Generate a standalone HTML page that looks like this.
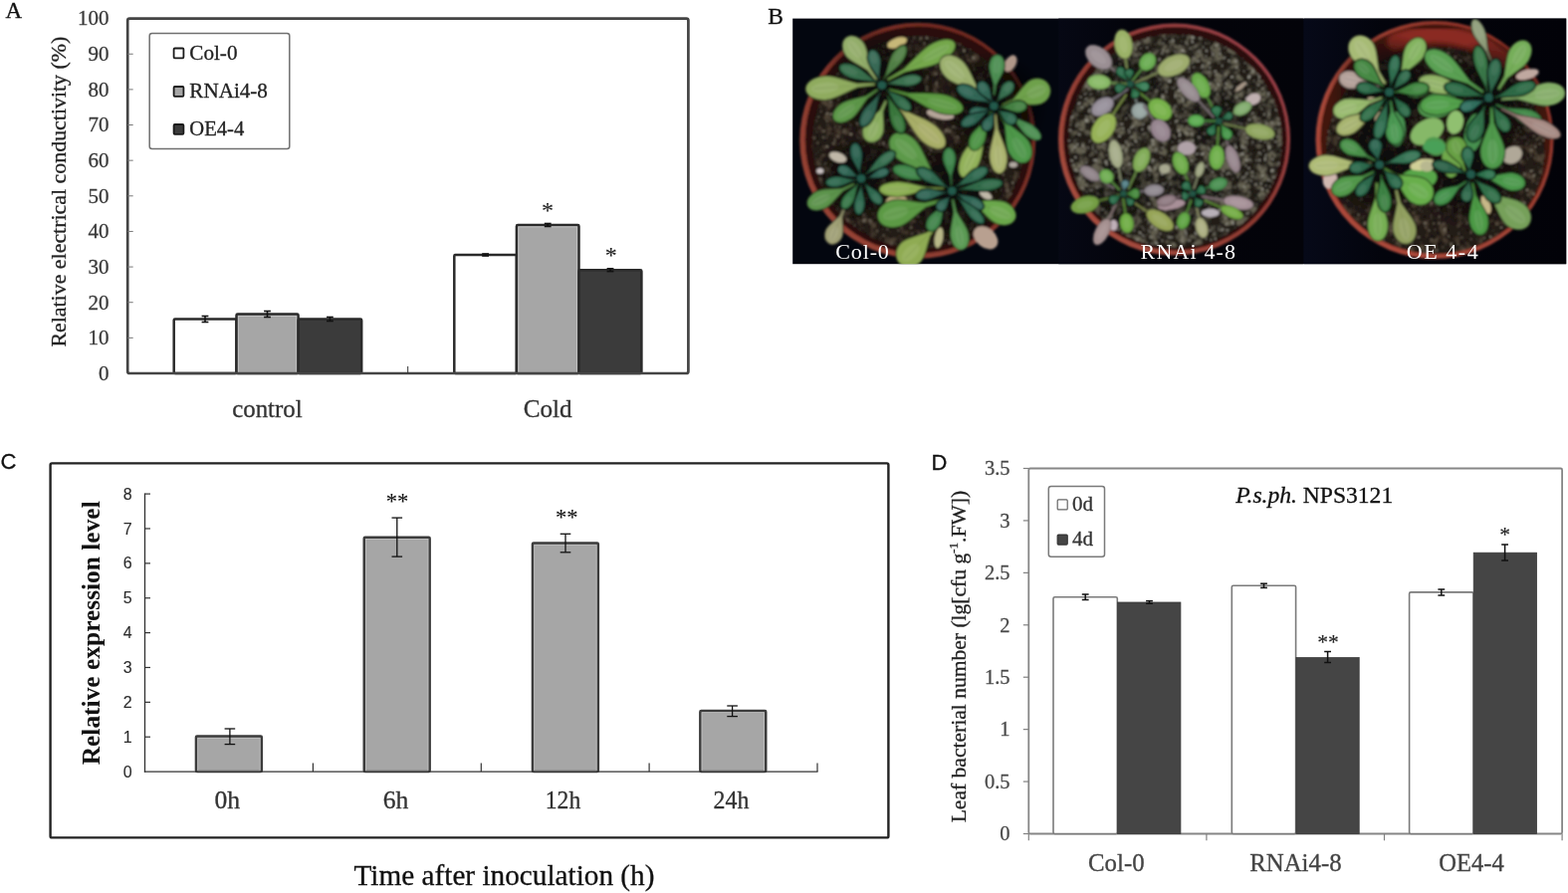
<!DOCTYPE html>
<html lang="en">
<head>
<meta charset="utf-8">
<title>Figure: relative electrical conductivity, plant phenotype, expression level and leaf bacterial number</title>
<style>
html,body{margin:0;padding:0;background:#fff;}
body{width:1575px;height:897px;overflow:hidden;font-family:"Liberation Serif","DejaVu Serif",serif;}
svg{display:block;}
text{white-space:pre;}
</style>
</head>
<body>
<svg width="1575" height="897" viewBox="0 0 1575 897">
<rect x="0" y="0" width="1575" height="897" fill="#ffffff"/>
<g id="panelA">
<text x="5.6" y="18.3" font-size="23" fill="#111" stroke="#111" stroke-width="0.3" text-anchor="start" font-family="'Liberation Serif', 'DejaVu Serif', serif" >A</text>
<rect x="174.7" y="320.4" width="62.80000000000001" height="54.60000000000002" fill="#ffffff" stroke="#2a2a2a" stroke-width="2.5" rx="1.2"/>
<rect x="237.5" y="315.6" width="62.10000000000002" height="59.39999999999998" fill="#a6a6a6" stroke="#2a2a2a" stroke-width="2.5" rx="1.2"/>
<rect x="239.4" y="317.5" width="58.300000000000026" height="56.39999999999998" fill="none" stroke="#c4c4c4" stroke-width="0.9" />
<rect x="299.6" y="320.6" width="63.599999999999966" height="54.39999999999998" fill="#3b3b3b" stroke="#2a2a2a" stroke-width="2.5" rx="1.2"/>
<rect x="456.3" y="255.9" width="62.599999999999966" height="119.1" fill="#ffffff" stroke="#2a2a2a" stroke-width="2.5" rx="1.2"/>
<rect x="518.9" y="226.0" width="62.60000000000002" height="149.0" fill="#a6a6a6" stroke="#2a2a2a" stroke-width="2.5" rx="1.2"/>
<rect x="520.8" y="227.9" width="58.800000000000026" height="146.0" fill="none" stroke="#c4c4c4" stroke-width="0.9" />
<rect x="581.5" y="271.2" width="62.89999999999998" height="103.80000000000001" fill="#3b3b3b" stroke="#2a2a2a" stroke-width="2.5" rx="1.2"/>
<line x1="206" y1="317.5" x2="206" y2="323.5" stroke="#111" stroke-width="1.6" />
<line x1="202.6" y1="317.5" x2="209.4" y2="317.5" stroke="#111" stroke-width="1.6" />
<line x1="202.6" y1="323.5" x2="209.4" y2="323.5" stroke="#111" stroke-width="1.6" />
<line x1="268.5" y1="312.5" x2="268.5" y2="318.5" stroke="#111" stroke-width="1.6" />
<line x1="265.1" y1="312.5" x2="271.9" y2="312.5" stroke="#111" stroke-width="1.6" />
<line x1="265.1" y1="318.5" x2="271.9" y2="318.5" stroke="#111" stroke-width="1.6" />
<line x1="331.4" y1="318.5" x2="331.4" y2="322.5" stroke="#111" stroke-width="1.6" />
<line x1="328.0" y1="318.5" x2="334.79999999999995" y2="318.5" stroke="#111" stroke-width="1.6" />
<line x1="328.0" y1="322.5" x2="334.79999999999995" y2="322.5" stroke="#111" stroke-width="1.6" />
<line x1="487.6" y1="255" x2="487.6" y2="257" stroke="#111" stroke-width="1.6" />
<line x1="484.20000000000005" y1="255" x2="491.0" y2="255" stroke="#111" stroke-width="1.6" />
<line x1="484.20000000000005" y1="257" x2="491.0" y2="257" stroke="#111" stroke-width="1.6" />
<line x1="550.2" y1="224.5" x2="550.2" y2="227.5" stroke="#111" stroke-width="1.6" />
<line x1="546.8000000000001" y1="224.5" x2="553.6" y2="224.5" stroke="#111" stroke-width="1.6" />
<line x1="546.8000000000001" y1="227.5" x2="553.6" y2="227.5" stroke="#111" stroke-width="1.6" />
<line x1="613" y1="269.8" x2="613" y2="272.6" stroke="#111" stroke-width="1.6" />
<line x1="609.6" y1="269.8" x2="616.4" y2="269.8" stroke="#111" stroke-width="1.6" />
<line x1="609.6" y1="272.6" x2="616.4" y2="272.6" stroke="#111" stroke-width="1.6" />
<rect x="128.2" y="18.6" width="563.2" height="356.4" fill="none" stroke="#444444" stroke-width="2.7" rx="2"/>
<line x1="128.2" y1="339.36" x2="133.7" y2="339.36" stroke="#777" stroke-width="1" />
<line x1="128.2" y1="303.72" x2="133.7" y2="303.72" stroke="#777" stroke-width="1" />
<line x1="128.2" y1="268.08000000000004" x2="133.7" y2="268.08000000000004" stroke="#777" stroke-width="1" />
<line x1="128.2" y1="232.44" x2="133.7" y2="232.44" stroke="#777" stroke-width="1" />
<line x1="128.2" y1="196.8" x2="133.7" y2="196.8" stroke="#777" stroke-width="1" />
<line x1="128.2" y1="161.16000000000003" x2="133.7" y2="161.16000000000003" stroke="#777" stroke-width="1" />
<line x1="128.2" y1="125.52000000000004" x2="133.7" y2="125.52000000000004" stroke="#777" stroke-width="1" />
<line x1="128.2" y1="89.88" x2="133.7" y2="89.88" stroke="#777" stroke-width="1" />
<line x1="128.2" y1="54.24000000000001" x2="133.7" y2="54.24000000000001" stroke="#777" stroke-width="1" />
<line x1="409.7" y1="368" x2="409.7" y2="375" stroke="#333" stroke-width="1" />
<text x="109.6" y="381.8" font-size="21" fill="#3a3a3a" stroke="#3a3a3a" stroke-width="0.3" text-anchor="end" font-family="'Liberation Serif', 'DejaVu Serif', serif" >0</text>
<text x="109.6" y="346.16" font-size="21" fill="#3a3a3a" stroke="#3a3a3a" stroke-width="0.3" text-anchor="end" font-family="'Liberation Serif', 'DejaVu Serif', serif" >10</text>
<text x="109.6" y="310.52000000000004" font-size="21" fill="#3a3a3a" stroke="#3a3a3a" stroke-width="0.3" text-anchor="end" font-family="'Liberation Serif', 'DejaVu Serif', serif" >20</text>
<text x="109.6" y="274.88000000000005" font-size="21" fill="#3a3a3a" stroke="#3a3a3a" stroke-width="0.3" text-anchor="end" font-family="'Liberation Serif', 'DejaVu Serif', serif" >30</text>
<text x="109.6" y="239.24" font-size="21" fill="#3a3a3a" stroke="#3a3a3a" stroke-width="0.3" text-anchor="end" font-family="'Liberation Serif', 'DejaVu Serif', serif" >40</text>
<text x="109.6" y="203.60000000000002" font-size="21" fill="#3a3a3a" stroke="#3a3a3a" stroke-width="0.3" text-anchor="end" font-family="'Liberation Serif', 'DejaVu Serif', serif" >50</text>
<text x="109.6" y="167.96000000000004" font-size="21" fill="#3a3a3a" stroke="#3a3a3a" stroke-width="0.3" text-anchor="end" font-family="'Liberation Serif', 'DejaVu Serif', serif" >60</text>
<text x="109.6" y="132.32000000000005" font-size="21" fill="#3a3a3a" stroke="#3a3a3a" stroke-width="0.3" text-anchor="end" font-family="'Liberation Serif', 'DejaVu Serif', serif" >70</text>
<text x="109.6" y="96.67999999999999" font-size="21" fill="#3a3a3a" stroke="#3a3a3a" stroke-width="0.3" text-anchor="end" font-family="'Liberation Serif', 'DejaVu Serif', serif" >80</text>
<text x="109.6" y="61.040000000000006" font-size="21" fill="#3a3a3a" stroke="#3a3a3a" stroke-width="0.3" text-anchor="end" font-family="'Liberation Serif', 'DejaVu Serif', serif" >90</text>
<text x="109.6" y="25.400000000000023" font-size="21" fill="#3a3a3a" stroke="#3a3a3a" stroke-width="0.3" text-anchor="end" font-family="'Liberation Serif', 'DejaVu Serif', serif" >100</text>
<text transform="translate(65.8,348.6) rotate(-90)" font-size="22" fill="#222" stroke="#222" stroke-width="0.3" font-family="'Liberation Serif', 'DejaVu Serif', serif" textLength="312" lengthAdjust="spacingAndGlyphs">Relative electrical conductivity (%)</text>
<rect x="150.2" y="33.6" width="140.6" height="116" fill="#fff" stroke="#707070" stroke-width="1.5" rx="2.5"/>
<rect x="174.6" y="48.5" width="9.8" height="9.8" fill="#ffffff" stroke="#1a1a1a" stroke-width="1.8" rx="1"/>
<text x="190.3" y="59.8" font-size="21" fill="#222" stroke="#222" stroke-width="0.3" text-anchor="start" font-family="'Liberation Serif', 'DejaVu Serif', serif" textLength="48.2" lengthAdjust="spacingAndGlyphs" >Col-0</text>
<rect x="174.6" y="87.0" width="9.8" height="9.8" fill="#a6a6a6" stroke="#1a1a1a" stroke-width="1.8" rx="1"/>
<text x="190.3" y="98.3" font-size="21" fill="#222" stroke="#222" stroke-width="0.3" text-anchor="start" font-family="'Liberation Serif', 'DejaVu Serif', serif" textLength="78.6" lengthAdjust="spacingAndGlyphs" >RNAi4-8</text>
<rect x="174.6" y="125.0" width="9.8" height="9.8" fill="#3b3b3b" stroke="#1a1a1a" stroke-width="1.8" rx="1"/>
<text x="190.3" y="136.2" font-size="21" fill="#222" stroke="#222" stroke-width="0.3" text-anchor="start" font-family="'Liberation Serif', 'DejaVu Serif', serif" textLength="55" lengthAdjust="spacingAndGlyphs" >OE4-4</text>
<text x="268.4" y="419.4" font-size="25" fill="#333" stroke="#333" stroke-width="0.3" text-anchor="middle" font-family="'Liberation Serif', 'DejaVu Serif', serif" textLength="70.5" lengthAdjust="spacingAndGlyphs" >control</text>
<text x="550.2" y="419.4" font-size="25" fill="#333" stroke="#333" stroke-width="0.3" text-anchor="middle" font-family="'Liberation Serif', 'DejaVu Serif', serif" textLength="49" lengthAdjust="spacingAndGlyphs" >Cold</text>
<text x="550.0" y="218.8" font-size="24" fill="#222" stroke="#222" stroke-width="0.1" text-anchor="middle" font-family="'Liberation Serif', 'DejaVu Serif', serif" >*</text>
<text x="613.7" y="264.4" font-size="24" fill="#222" stroke="#222" stroke-width="0.1" text-anchor="middle" font-family="'Liberation Serif', 'DejaVu Serif', serif" >*</text>
</g>
<defs>
<filter id="soil1" x="0" y="0" width="100%" height="100%" color-interpolation-filters="sRGB">
<feTurbulence type="fractalNoise" baseFrequency="0.11" numOctaves="2" seed="3" result="n1"/>
<feColorMatrix in="n1" type="matrix" values="0 0 0 0 0  0 0 0 0 0  0 0 0 0 0  5.0 0 0 0 -2.6" result="a1"/>
<feFlood flood-color="#4e4336" result="f1"/>
<feComposite in="f1" in2="a1" operator="in" result="lumps"/>
<feTurbulence type="fractalNoise" baseFrequency="0.3" numOctaves="2" seed="8" result="n2"/>
<feColorMatrix in="n2" type="matrix" values="0 0 0 0 0  0 0 0 0 0  0 0 0 0 0  0 8 0 0 -5.3" result="a2"/>
<feFlood flood-color="#8a8272" result="f2"/>
<feComposite in="f2" in2="a2" operator="in" result="hi"/>
<feColorMatrix in="n2" type="matrix" values="0 0 0 0 0  0 0 0 0 0  0 0 0 0 0  0 0 -6 0 2.5" result="a3"/>
<feFlood flood-color="#14100d" result="f3"/>
<feComposite in="f3" in2="a3" operator="in" result="dk"/>
<feMerge result="m"><feMergeNode in="SourceGraphic"/><feMergeNode in="lumps"/><feMergeNode in="dk"/><feMergeNode in="hi"/></feMerge>
<feComposite in="m" in2="SourceGraphic" operator="in"/>
</filter>
<filter id="soil2" x="0" y="0" width="100%" height="100%" color-interpolation-filters="sRGB">
<feTurbulence type="fractalNoise" baseFrequency="0.11" numOctaves="2" seed="11" result="n1"/>
<feColorMatrix in="n1" type="matrix" values="0 0 0 0 0  0 0 0 0 0  0 0 0 0 0  5.0 0 0 0 -2.25" result="a1"/>
<feFlood flood-color="#625e4f" result="f1"/>
<feComposite in="f1" in2="a1" operator="in" result="lumps"/>
<feTurbulence type="fractalNoise" baseFrequency="0.3" numOctaves="2" seed="16" result="n2"/>
<feColorMatrix in="n2" type="matrix" values="0 0 0 0 0  0 0 0 0 0  0 0 0 0 0  0 8 0 0 -5.0" result="a2"/>
<feFlood flood-color="#96948a" result="f2"/>
<feComposite in="f2" in2="a2" operator="in" result="hi"/>
<feColorMatrix in="n2" type="matrix" values="0 0 0 0 0  0 0 0 0 0  0 0 0 0 0  0 0 -6 0 2.5" result="a3"/>
<feFlood flood-color="#14100d" result="f3"/>
<feComposite in="f3" in2="a3" operator="in" result="dk"/>
<feMerge result="m"><feMergeNode in="SourceGraphic"/><feMergeNode in="lumps"/><feMergeNode in="dk"/><feMergeNode in="hi"/></feMerge>
<feComposite in="m" in2="SourceGraphic" operator="in"/>
</filter>
<filter id="soil3" x="0" y="0" width="100%" height="100%" color-interpolation-filters="sRGB">
<feTurbulence type="fractalNoise" baseFrequency="0.11" numOctaves="2" seed="23" result="n1"/>
<feColorMatrix in="n1" type="matrix" values="0 0 0 0 0  0 0 0 0 0  0 0 0 0 0  5.0 0 0 0 -2.6" result="a1"/>
<feFlood flood-color="#4e4336" result="f1"/>
<feComposite in="f1" in2="a1" operator="in" result="lumps"/>
<feTurbulence type="fractalNoise" baseFrequency="0.3" numOctaves="2" seed="28" result="n2"/>
<feColorMatrix in="n2" type="matrix" values="0 0 0 0 0  0 0 0 0 0  0 0 0 0 0  0 8 0 0 -5.3" result="a2"/>
<feFlood flood-color="#8a8272" result="f2"/>
<feComposite in="f2" in2="a2" operator="in" result="hi"/>
<feColorMatrix in="n2" type="matrix" values="0 0 0 0 0  0 0 0 0 0  0 0 0 0 0  0 0 -6 0 2.5" result="a3"/>
<feFlood flood-color="#14100d" result="f3"/>
<feComposite in="f3" in2="a3" operator="in" result="dk"/>
<feMerge result="m"><feMergeNode in="SourceGraphic"/><feMergeNode in="lumps"/><feMergeNode in="dk"/><feMergeNode in="hi"/></feMerge>
<feComposite in="m" in2="SourceGraphic" operator="in"/>
</filter>
<radialGradient id="shd"><stop offset="0" stop-color="#050403" stop-opacity="0.85"/><stop offset="0.6" stop-color="#050403" stop-opacity="0.55"/><stop offset="1" stop-color="#050403" stop-opacity="0"/></radialGradient>
<filter id="soft2" x="-20%" y="-20%" width="140%" height="140%"><feGaussianBlur stdDeviation="2"/></filter>
<filter id="soft" x="-2%" y="-2%" width="104%" height="104%"><feGaussianBlur stdDeviation="0.9"/></filter>
<clipPath id="photoclip"><rect x="796.2" y="18.6" width="777" height="246.6"/></clipPath>
<linearGradient id="rim1" x1="0" y1="1" x2="1" y2="0"><stop offset="0" stop-color="#a04a3a"/><stop offset="0.55" stop-color="#7e3228"/><stop offset="1" stop-color="#6a261e"/></linearGradient>
<linearGradient id="rim2" x1="0" y1="1" x2="1" y2="0"><stop offset="0" stop-color="#b05442"/><stop offset="0.5" stop-color="#8e3a32"/><stop offset="1" stop-color="#a04450"/></linearGradient>
<linearGradient id="rim3" x1="0" y1="1" x2="1" y2="0"><stop offset="0" stop-color="#b04a3c"/><stop offset="0.5" stop-color="#a04436"/><stop offset="1" stop-color="#8a2c22"/></linearGradient>
<linearGradient id="bg2" x1="0" y1="0" x2="1" y2="0"><stop offset="0" stop-color="#060814"/><stop offset="0.3" stop-color="#03040b"/><stop offset="1" stop-color="#030309"/></linearGradient>
<linearGradient id="bg3" x1="0" y1="0" x2="1" y2="0"><stop offset="0" stop-color="#060918"/><stop offset="0.3" stop-color="#03040c"/><stop offset="1" stop-color="#020208"/></linearGradient>
</defs>
<g id="panelB">
<text x="771.2" y="24" font-size="23.5" fill="#111" stroke="#111" stroke-width="0.3" text-anchor="start" font-family="'Liberation Serif', 'DejaVu Serif', serif" >B</text>
<rect x="796.2" y="18.6" width="777" height="246.6" fill="#03060f" stroke="none" stroke-width="0" />
<rect x="1063.3" y="18.6" width="245.6" height="246.6" fill="url(#bg2)" stroke="none" stroke-width="0" />
<rect x="1309.6" y="18.6" width="263.6" height="246.6" fill="url(#bg3)" stroke="none" stroke-width="0" />
<g clip-path="url(#photoclip)"><g filter="url(#soft)">
<circle cx="921.8" cy="141.2" r="118.5" fill="url(#rim1)"/>
<circle cx="922.6999999999999" cy="140.5" r="114.0" fill="#2a0d0a"/>
<ellipse cx="922.5999999999999" cy="142.7" rx="107.0" ry="107.0" fill="#231a15" filter="url(#soil1)"/>
<circle cx="885.9" cy="85.7" r="58.1" fill="url(#shd)"/>
<circle cx="998.4" cy="106.5" r="55.3" fill="url(#shd)"/>
<circle cx="865.1" cy="179.3" r="45.6" fill="url(#shd)"/>
<circle cx="956.3" cy="191.8" r="55.3" fill="url(#shd)"/>
<ellipse cx="901.1" cy="42.9" rx="10.4" ry="4.8" fill="#c8b878" transform="rotate(-20 901.1 42.9)"/>
<ellipse cx="944.5" cy="114.8" rx="13.8" ry="4.8" fill="#b5a59a" transform="rotate(10 944.5 114.8)"/>
<ellipse cx="841.6" cy="157.9" rx="9.0" ry="4.8" fill="#c0b8a8" transform="rotate(20 841.6 157.9)"/>
<ellipse cx="823.7" cy="171.7" rx="3.5" ry="2.8" fill="#c8c0c0" transform="rotate(0 823.7 171.7)"/>
<ellipse cx="1015.0" cy="63.6" rx="5.5" ry="9.0" fill="#b0988a" transform="rotate(30 1015.0 63.6)"/>
<ellipse cx="901.1" cy="205.6" rx="11.8" ry="10.4" fill="#c0b080" transform="rotate(0 901.1 205.6)"/>
<ellipse cx="990.1" cy="238.8" rx="13.8" ry="9.7" fill="#b8a090" transform="rotate(40 990.1 238.8)"/>
<ellipse cx="990.1" cy="195.9" rx="6.9" ry="3.5" fill="#c0b8a8" transform="rotate(30 990.1 195.9)"/>
<ellipse cx="943.1" cy="238.8" rx="4.1" ry="10.4" fill="#b8b888" transform="rotate(10 943.1 238.8)"/>
<ellipse cx="823.7" cy="200.1" rx="4.1" ry="7.6" fill="#b0a890" transform="rotate(10 823.7 200.1)"/>
<ellipse cx="1017.8" cy="165.5" rx="4.1" ry="2.8" fill="#b0a8a0" transform="rotate(0 1017.8 165.5)"/>
<path d="M881.4 79.4 L874.4 68.3 C871.3 55.6 871.7 49.3 867.6 43.2 C862.8 36.5 855.5 33.7 849.9 37.4 C844.7 41.4 844.8 49.3 849.6 56.0 C854.0 61.8 860.1 63.5 871.1 70.7 L879.3 81.0 Z" fill="#93ad6a" stroke="#2c331f" stroke-width="1.2" stroke-opacity="0.8"/>
<ellipse cx="858.4" cy="49.4" rx="10.5" ry="4.9" fill="#aabf8a" fill-opacity="0.4" transform="rotate(-125 858.4 49.4)"/>
<line x1="880.3" y1="80.2" x2="853.6" y2="42.5" stroke="#6e814f" stroke-width="0.7" stroke-opacity="0.5"/>
<path d="M878.8 82.9 L861.3 83.6 C844.7 79.6 837.8 75.7 828.1 76.3 C817.1 77.1 808.9 82.6 809.1 89.9 C810.1 97.1 819.0 101.2 830.0 100.4 C839.7 99.4 845.9 94.5 861.7 87.9 L879.1 85.8 Z" fill="#8fab5f" stroke="#2a331c" stroke-width="1.2" stroke-opacity="0.8"/>
<ellipse cx="828.7" cy="88.3" rx="14.0" ry="5.3" fill="#a7bd82" fill-opacity="0.4" transform="rotate(175 828.7 88.3)"/>
<line x1="879.0" y1="84.4" x2="817.5" y2="89.2" stroke="#6b8047" stroke-width="0.7" stroke-opacity="0.5"/>
<path d="M881.1 89.0 L869.7 96.1 C857.1 99.8 851.1 99.9 844.8 104.0 C837.9 108.7 834.5 115.5 837.5 120.3 C840.9 124.8 848.4 124.1 855.4 119.3 C861.4 114.9 863.6 109.3 871.6 98.9 L882.4 90.8 Z" fill="#5d9749" stroke="#1b2d15" stroke-width="1.2" stroke-opacity="0.8"/>
<ellipse cx="849.9" cy="111.8" rx="10.7" ry="4.1" fill="#80ad71" fill-opacity="0.4" transform="rotate(145 849.9 111.8)"/>
<line x1="881.7" y1="89.9" x2="842.8" y2="116.7" stroke="#457136" stroke-width="0.7" stroke-opacity="0.5"/>
<path d="M892.0 81.3 L909.2 72.5 C927.2 67.8 935.3 67.6 944.8 62.6 C955.5 56.8 961.8 48.5 959.1 42.9 C955.8 37.6 945.4 38.6 934.8 44.4 C925.5 49.8 921.0 56.6 907.4 69.2 L890.8 79.1 Z" fill="#74a74c" stroke="#223216" stroke-width="1.2" stroke-opacity="0.8"/>
<ellipse cx="940.2" cy="53.3" rx="15.5" ry="4.6" fill="#92ba73" fill-opacity="0.4" transform="rotate(-29 940.2 53.3)"/>
<line x1="891.4" y1="80.2" x2="951.0" y2="47.4" stroke="#577d39" stroke-width="0.7" stroke-opacity="0.5"/>
<path d="M892.5 91.0 L911.0 96.6 C927.2 105.4 933.3 110.6 943.6 113.6 C955.4 116.7 965.6 115.4 967.4 109.9 C968.6 104.2 960.4 98.0 948.7 94.9 C938.2 92.3 930.4 93.8 911.9 93.2 L893.1 88.8 Z" fill="#5d9942" stroke="#1b2d13" stroke-width="1.2" stroke-opacity="0.8"/>
<ellipse cx="946.5" cy="104.3" rx="15.5" ry="4.3" fill="#80af6b" fill-opacity="0.4" transform="rotate(15 946.5 104.3)"/>
<line x1="892.8" y1="89.9" x2="958.5" y2="107.5" stroke="#457231" stroke-width="0.7" stroke-opacity="0.5"/>
<path d="M892.5 100.9 L905.9 113.3 C915.8 127.8 918.5 135.1 926.1 141.9 C934.8 149.3 944.3 152.0 948.6 147.5 C952.4 142.6 948.3 133.6 939.6 126.1 C931.8 119.7 924.2 118.1 908.4 110.5 L894.1 99.0 Z" fill="#a8ae68" stroke="#32341f" stroke-width="1.2" stroke-opacity="0.8"/>
<ellipse cx="933.1" cy="134.2" rx="14.6" ry="4.6" fill="#bbbf89" fill-opacity="0.4" transform="rotate(41 933.1 134.2)"/>
<line x1="893.3" y1="100.0" x2="942.0" y2="141.8" stroke="#7e824e" stroke-width="0.7" stroke-opacity="0.5"/>
<path d="M888.9 100.5 L883.8 110.6 C875.4 118.4 870.3 120.8 867.6 126.5 C864.8 133.0 866.4 139.7 872.0 142.4 C877.8 144.7 883.9 141.2 886.7 134.7 C889.0 128.9 887.2 123.5 887.2 112.1 L891.2 101.4 Z" fill="#8bae61" stroke="#29341d" stroke-width="1.2" stroke-opacity="0.8"/>
<ellipse cx="877.1" cy="130.8" rx="9.0" ry="4.6" fill="#a4bf83" fill-opacity="0.4" transform="rotate(113 877.1 130.8)"/>
<line x1="890.0" y1="101.0" x2="874.2" y2="137.5" stroke="#688248" stroke-width="0.7" stroke-opacity="0.5"/>
<path d="M993.8 99.9 L982.6 88.7 C975.1 74.9 973.6 67.8 967.2 61.6 C959.8 54.9 950.9 53.1 945.9 58.1 C941.4 63.5 944.0 72.3 951.4 79.0 C958.1 84.8 965.3 85.7 979.7 91.8 L991.9 102.0 Z" fill="#9db16f" stroke="#2f3521" stroke-width="1.2" stroke-opacity="0.8"/>
<ellipse cx="959.0" cy="70.1" rx="12.7" ry="5.2" fill="#b2c28e" fill-opacity="0.4" transform="rotate(-138 959.0 70.1)"/>
<line x1="992.9" y1="101.0" x2="951.5" y2="63.2" stroke="#758453" stroke-width="0.7" stroke-opacity="0.5"/>
<path d="M999.4 95.5 L1000.9 85.4 C1005.3 76.2 1008.6 72.7 1009.3 67.1 C1009.9 60.7 1007.3 55.3 1002.6 54.6 C997.8 54.4 994.1 59.1 993.5 65.5 C993.1 71.2 995.5 75.2 998.0 85.1 L997.5 95.3 Z" fill="#4e8f53" stroke="#172a18" stroke-width="1.2" stroke-opacity="0.8"/>
<ellipse cx="1001.4" cy="66.1" rx="8.2" ry="3.5" fill="#74a778" fill-opacity="0.4" transform="rotate(-84 1001.4 66.1)"/>
<line x1="998.4" y1="95.4" x2="1002.1" y2="59.5" stroke="#3a6b3e" stroke-width="0.7" stroke-opacity="0.5"/>
<path d="M1007.3 107.9 L1019.6 103.7 C1032.9 104.3 1039.2 106.8 1045.9 104.3 C1053.4 101.1 1057.2 93.8 1054.4 86.4 C1051.1 79.3 1043.2 76.9 1035.7 80.0 C1029.2 83.1 1026.6 89.3 1017.7 99.3 L1006.1 105.0 Z" fill="#6ea14c" stroke="#213016" stroke-width="1.2" stroke-opacity="0.8"/>
<ellipse cx="1041.1" cy="92.0" rx="10.3" ry="5.8" fill="#8db573" fill-opacity="0.4" transform="rotate(-23 1041.1 92.0)"/>
<line x1="1006.7" y1="106.5" x2="1048.7" y2="88.8" stroke="#527839" stroke-width="0.7" stroke-opacity="0.5"/>
<path d="M1009.0 112.6 L1017.8 119.8 C1024.5 128.4 1026.5 132.8 1031.4 136.7 C1037.0 141.0 1043.0 142.5 1045.4 139.7 C1047.5 136.6 1044.6 131.2 1039.0 126.9 C1033.9 123.1 1029.2 122.3 1019.2 118.0 L1009.9 111.4 Z" fill="#4e8f53" stroke="#172a18" stroke-width="1.2" stroke-opacity="0.8"/>
<ellipse cx="1035.4" cy="131.9" rx="9.1" ry="2.7" fill="#74a778" fill-opacity="0.4" transform="rotate(38 1035.4 131.9)"/>
<line x1="1009.5" y1="112.0" x2="1041.1" y2="136.3" stroke="#3a6b3e" stroke-width="0.7" stroke-opacity="0.5"/>
<path d="M1002.7 112.7 L1009.0 125.7 C1010.9 140.0 1009.8 146.7 1013.4 153.9 C1017.7 161.9 1025.3 165.9 1031.6 162.8 C1037.7 159.1 1038.4 150.6 1034.0 142.7 C1030.0 135.7 1023.7 133.0 1012.7 123.7 L1005.2 111.3 Z" fill="#4e9749" stroke="#172d15" stroke-width="1.2" stroke-opacity="0.8"/>
<ellipse cx="1023.9" cy="148.5" rx="11.6" ry="5.2" fill="#74ad71" fill-opacity="0.4" transform="rotate(61 1023.9 148.5)"/>
<line x1="1004.0" y1="112.0" x2="1028.3" y2="156.7" stroke="#3a7136" stroke-width="0.7" stroke-opacity="0.5"/>
<path d="M998.7 114.9 L999.2 129.8 C996.2 144.0 993.4 149.8 993.8 158.1 C994.5 167.5 998.6 174.6 1004.0 174.5 C1009.3 173.8 1012.4 166.2 1011.7 156.9 C1011.0 148.5 1007.4 143.2 1002.5 129.6 L1000.9 114.7 Z" fill="#abb46f" stroke="#333621" stroke-width="1.2" stroke-opacity="0.8"/>
<ellipse cx="1002.8" cy="157.8" rx="12.0" ry="4.0" fill="#bdc48e" fill-opacity="0.4" transform="rotate(86 1002.8 157.8)"/>
<line x1="999.8" y1="114.8" x2="1003.5" y2="167.3" stroke="#808753" stroke-width="0.7" stroke-opacity="0.5"/>
<path d="M994.6 114.3 L986.8 129.8 C976.2 142.8 970.3 147.2 966.1 155.9 C961.6 165.8 961.5 175.2 966.6 178.0 C972.0 180.1 979.1 173.9 983.7 164.0 C987.6 155.1 987.1 147.8 990.0 131.3 L996.7 115.3 Z" fill="#92b15a" stroke="#2b351b" stroke-width="1.2" stroke-opacity="0.8"/>
<ellipse cx="974.8" cy="160.3" rx="13.9" ry="4.3" fill="#a9c27e" fill-opacity="0.4" transform="rotate(115 974.8 160.3)"/>
<line x1="995.7" y1="114.8" x2="970.1" y2="170.4" stroke="#6d8443" stroke-width="0.7" stroke-opacity="0.5"/>
<path d="M994.8 111.6 L989.6 121.1 C982.1 128.6 977.9 131.0 975.0 136.3 C972.0 142.4 972.3 148.5 976.3 150.7 C980.5 152.6 985.6 149.2 988.6 143.1 C991.2 137.6 990.5 132.8 992.0 122.3 L996.5 112.4 Z" fill="#4e9345" stroke="#172c14" stroke-width="1.2" stroke-opacity="0.8"/>
<ellipse cx="981.7" cy="139.9" rx="8.7" ry="3.3" fill="#74aa6d" fill-opacity="0.4" transform="rotate(117 981.7 139.9)"/>
<line x1="995.7" y1="112.0" x2="978.6" y2="146.1" stroke="#3a6e33" stroke-width="0.7" stroke-opacity="0.5"/>
<path d="M857.7 183.8 L845.7 188.8 C833.0 190.1 827.1 189.0 820.5 191.9 C813.1 195.4 809.0 201.6 811.2 207.0 C813.9 212.1 821.4 212.9 828.7 209.4 C835.2 206.2 838.1 201.0 847.2 192.0 L858.7 185.9 Z" fill="#5c934c" stroke="#1b2c16" stroke-width="1.2" stroke-opacity="0.8"/>
<ellipse cx="824.4" cy="200.8" rx="10.4" ry="4.3" fill="#7faa73" fill-opacity="0.4" transform="rotate(155 824.4 200.8)"/>
<line x1="858.2" y1="184.9" x2="816.8" y2="204.3" stroke="#456e39" stroke-width="0.7" stroke-opacity="0.5"/>
<path d="M847.5 207.9 L843.2 216.9 C836.1 223.9 831.7 226.1 829.4 231.1 C827.0 236.9 828.4 242.7 833.3 245.0 C838.4 246.9 843.6 243.7 846.0 238.0 C847.9 232.8 846.3 228.2 846.2 218.1 L849.5 208.8 Z" fill="#a0a076" stroke="#303023" stroke-width="1.2" stroke-opacity="0.8"/>
<ellipse cx="837.6" cy="234.7" rx="7.9" ry="4.0" fill="#b4b494" fill-opacity="0.4" transform="rotate(113 837.6 234.7)"/>
<line x1="848.5" y1="208.4" x2="835.2" y2="240.6" stroke="#787858" stroke-width="0.7" stroke-opacity="0.5"/>
<path d="M947.8 182.3 L935.5 170.0 C927.5 154.8 926.0 146.9 919.0 140.2 C911.0 132.8 901.1 130.9 895.5 136.5 C890.5 142.5 893.2 152.2 901.2 159.5 C908.5 165.9 916.5 166.8 932.3 173.5 L945.6 184.6 Z" fill="#5c9949" stroke="#1b2d15" stroke-width="1.2" stroke-opacity="0.8"/>
<ellipse cx="909.9" cy="149.6" rx="13.9" ry="5.8" fill="#7faf71" fill-opacity="0.4" transform="rotate(-137 909.9 149.6)"/>
<line x1="946.7" y1="183.5" x2="901.7" y2="142.1" stroke="#457236" stroke-width="0.7" stroke-opacity="0.5"/>
<path d="M948.3 182.7 L935.6 178.7 C924.6 172.3 920.5 168.6 913.4 166.4 C905.4 164.2 898.3 165.0 896.9 169.0 C896.0 173.0 901.6 177.5 909.6 179.7 C916.8 181.6 922.2 180.6 935.0 181.0 L947.9 184.3 Z" fill="#408549" stroke="#132715" stroke-width="1.2" stroke-opacity="0.8"/>
<ellipse cx="911.2" cy="173.0" rx="10.6" ry="3.0" fill="#6a9f71" fill-opacity="0.4" transform="rotate(-164 911.2 173.0)"/>
<line x1="948.1" y1="183.5" x2="903.1" y2="170.7" stroke="#306336" stroke-width="0.7" stroke-opacity="0.5"/>
<path d="M948.1 188.1 L931.8 188.0 C916.6 185.0 910.5 182.4 901.5 182.4 C891.3 182.6 883.3 185.8 883.1 190.4 C883.5 194.9 891.6 197.8 901.8 197.6 C910.8 197.3 916.8 194.4 931.9 190.7 L948.1 189.9 Z" fill="#8bae53" stroke="#293418" stroke-width="1.2" stroke-opacity="0.8"/>
<ellipse cx="901.3" cy="190.0" rx="13.0" ry="3.3" fill="#a4bf78" fill-opacity="0.4" transform="rotate(179 901.3 190.0)"/>
<line x1="948.1" y1="189.0" x2="890.9" y2="190.2" stroke="#68823e" stroke-width="0.7" stroke-opacity="0.5"/>
<path d="M944.9 199.9 L928.7 203.5 C912.3 201.9 905.0 198.8 896.1 201.0 C886.1 203.8 879.8 211.4 881.7 219.4 C884.3 227.3 893.6 230.4 903.6 227.6 C912.4 224.8 917.0 218.4 930.1 208.3 L945.8 203.0 Z" fill="#5c9945" stroke="#1b2d14" stroke-width="1.2" stroke-opacity="0.8"/>
<ellipse cx="899.5" cy="214.4" rx="13.2" ry="6.1" fill="#7faf6d" fill-opacity="0.4" transform="rotate(164 899.5 214.4)"/>
<line x1="945.3" y1="201.4" x2="889.3" y2="217.3" stroke="#457233" stroke-width="0.7" stroke-opacity="0.5"/>
<path d="M941.4 223.8 L931.1 233.2 C917.7 238.3 910.5 238.6 904.9 244.0 C898.9 250.3 898.1 259.1 903.8 265.0 C910.0 270.6 918.7 269.5 924.8 263.2 C930.0 257.4 930.0 250.3 934.7 236.7 L943.7 226.1 Z" fill="#8fab53" stroke="#2a3318" stroke-width="1.2" stroke-opacity="0.8"/>
<ellipse cx="914.7" cy="253.8" rx="11.1" ry="6.1" fill="#a7bd78" fill-opacity="0.4" transform="rotate(134 914.7 253.8)"/>
<line x1="942.6" y1="225.0" x2="908.5" y2="260.2" stroke="#6b803e" stroke-width="0.7" stroke-opacity="0.5"/>
<path d="M956.3 186.2 L956.1 176.7 C958.3 167.6 960.4 163.9 960.1 158.6 C959.7 152.6 956.7 148.1 952.8 148.2 C948.9 148.7 946.6 153.6 947.0 159.5 C947.6 164.8 950.2 168.2 953.7 176.8 L954.8 186.3 Z" fill="#40854c" stroke="#132716" stroke-width="1.2" stroke-opacity="0.8"/>
<ellipse cx="953.6" cy="158.9" rx="7.6" ry="2.9" fill="#6a9f73" fill-opacity="0.4" transform="rotate(-94 953.6 158.9)"/>
<line x1="955.6" y1="186.2" x2="953.1" y2="152.8" stroke="#306339" stroke-width="0.7" stroke-opacity="0.5"/>
<path d="M966.1 198.6 L979.1 204.9 C989.4 215.0 992.7 221.0 1000.1 224.4 C1008.4 228.0 1016.8 226.5 1019.9 220.1 C1022.4 213.5 1017.7 206.4 1009.3 202.8 C1001.8 199.8 995.2 201.6 980.8 201.1 L967.2 196.0 Z" fill="#6ba74c" stroke="#203216" stroke-width="1.2" stroke-opacity="0.8"/>
<ellipse cx="1004.9" cy="213.7" rx="11.6" ry="5.2" fill="#8bba73" fill-opacity="0.4" transform="rotate(23 1004.9 213.7)"/>
<line x1="966.6" y1="197.3" x2="1013.5" y2="217.4" stroke="#507d39" stroke-width="0.7" stroke-opacity="0.5"/>
<path d="M955.8 200.3 L957.7 213.2 C955.9 225.8 953.5 231.2 954.7 238.4 C956.2 246.4 961.1 252.0 966.6 251.2 C972.1 249.9 974.6 242.9 973.0 234.9 C971.5 227.8 967.3 223.7 961.0 212.5 L958.0 199.9 Z" fill="#5a9953" stroke="#1b2d18" stroke-width="1.2" stroke-opacity="0.8"/>
<ellipse cx="963.9" cy="236.9" rx="10.4" ry="4.1" fill="#7eaf78" fill-opacity="0.4" transform="rotate(79 963.9 236.9)"/>
<line x1="956.9" y1="200.1" x2="965.5" y2="245.1" stroke="#43723e" stroke-width="0.7" stroke-opacity="0.5"/>
<path d="M950.7 199.6 L945.7 207.4 C938.7 213.2 934.8 214.9 932.1 219.3 C929.2 224.3 929.3 229.6 932.8 231.9 C936.4 233.8 941.1 231.3 944.0 226.3 C946.5 221.8 946.1 217.6 947.8 208.6 L952.1 200.5 Z" fill="#42854c" stroke="#132716" stroke-width="1.2" stroke-opacity="0.8"/>
<ellipse cx="938.0" cy="223.0" rx="7.4" ry="3.0" fill="#6b9f73" fill-opacity="0.4" transform="rotate(120 938.0 223.0)"/>
<line x1="951.4" y1="200.1" x2="935.0" y2="228.1" stroke="#316339" stroke-width="0.7" stroke-opacity="0.5"/>
<path d="M882.0 82.2 L877.6 79.8 C868.2 72.5 865.0 68.4 858.7 65.6 C851.6 62.5 844.8 62.7 843.0 66.4 C841.6 70.3 846.1 75.2 853.2 78.3 C859.6 80.9 864.8 80.4 876.6 82.1 L881.4 83.7 Z" fill="#396f4d" stroke="#0b160f" stroke-width="1.5" stroke-opacity="0.85"/>
<ellipse cx="853.8" cy="71.0" rx="8.4" ry="3.0" fill="#648e74" fill-opacity="0.4" transform="rotate(-157 853.8 71.0)"/>
<line x1="881.7" y1="83.0" x2="847.7" y2="68.4" stroke="#2a5339" stroke-width="0.7" stroke-opacity="0.5"/>
<path d="M883.8 92.3 L881.1 96.2 C873.3 104.2 869.2 106.9 865.9 112.5 C862.3 118.8 861.8 125.1 865.1 127.2 C868.7 129.0 873.8 125.2 877.3 118.9 C880.4 113.2 880.4 108.2 883.2 97.4 L885.2 93.0 Z" fill="#316351" stroke="#091310" stroke-width="1.5" stroke-opacity="0.85"/>
<ellipse cx="870.5" cy="117.5" rx="7.9" ry="2.9" fill="#5e8577" fill-opacity="0.4" transform="rotate(119 870.5 117.5)"/>
<line x1="884.5" y1="92.7" x2="867.5" y2="123.1" stroke="#244a3c" stroke-width="0.7" stroke-opacity="0.5"/>
<path d="M883.9 80.0 L883.3 76.3 C884.1 67.3 885.5 63.4 884.4 58.4 C883.0 52.8 879.4 49.0 875.5 49.8 C871.7 50.9 870.3 56.0 871.7 61.6 C873.0 66.5 876.2 69.3 881.0 76.9 L882.3 80.4 Z" fill="#396b57" stroke="#0b1511" stroke-width="1.5" stroke-opacity="0.85"/>
<ellipse cx="877.6" cy="58.3" rx="6.3" ry="2.9" fill="#648b7b" fill-opacity="0.4" transform="rotate(-104 877.6 58.3)"/>
<line x1="883.1" y1="80.2" x2="876.4" y2="53.4" stroke="#2a5041" stroke-width="0.7" stroke-opacity="0.5"/>
<path d="M887.9 80.6 L890.9 76.7 C899.4 68.8 903.8 66.3 907.5 60.7 C911.6 54.4 912.6 47.9 909.4 45.7 C905.9 43.7 900.5 47.3 896.4 53.7 C892.9 59.4 892.5 64.4 888.9 75.4 L886.6 79.8 Z" fill="#528046" stroke="#10190d" stroke-width="1.5" stroke-opacity="0.85"/>
<ellipse cx="903.2" cy="55.3" rx="8.2" ry="2.9" fill="#789b6e" fill-opacity="0.4" transform="rotate(-57 903.2 55.3)"/>
<line x1="887.2" y1="80.2" x2="906.7" y2="49.8" stroke="#3d6034" stroke-width="0.7" stroke-opacity="0.5"/>
<path d="M888.7 85.1 L893.3 84.7 C903.8 85.8 908.2 87.3 914.3 86.5 C921.2 85.5 926.3 82.3 926.0 78.8 C925.3 75.4 919.5 73.9 912.6 74.9 C906.5 75.9 902.8 78.6 893.0 82.7 L888.5 83.7 Z" fill="#3d7351" stroke="#0c1610" stroke-width="1.5" stroke-opacity="0.85"/>
<ellipse cx="915.5" cy="80.4" rx="7.5" ry="2.6" fill="#679177" fill-opacity="0.4" transform="rotate(-8 915.5 80.4)"/>
<line x1="888.6" y1="84.4" x2="921.5" y2="79.5" stroke="#2d563c" stroke-width="0.7" stroke-opacity="0.5"/>
<path d="M889.6 90.4 L892.3 93.2 C897.5 100.8 898.8 104.7 902.8 108.2 C907.4 112.0 912.5 113.2 914.9 110.6 C917.0 107.8 914.9 103.0 910.3 99.2 C906.2 95.9 902.1 95.2 893.7 91.6 L890.5 89.4 Z" fill="#316b4a" stroke="#09150e" stroke-width="1.5" stroke-opacity="0.85"/>
<ellipse cx="907.9" cy="104.8" rx="6.5" ry="2.6" fill="#5e8b71" fill-opacity="0.4" transform="rotate(40 907.9 104.8)"/>
<line x1="890.0" y1="89.9" x2="911.9" y2="108.1" stroke="#245037" stroke-width="0.7" stroke-opacity="0.5"/>
<path d="M890.6 95.7 L892.1 100.5 C893.4 112.2 892.7 117.3 895.1 123.7 C897.9 130.8 902.7 135.5 906.6 134.1 C910.4 132.4 910.7 125.8 908.0 118.7 C905.3 112.4 901.4 109.1 894.4 99.6 L892.2 95.1 Z" fill="#3b783e" stroke="#0b170c" stroke-width="1.5" stroke-opacity="0.85"/>
<ellipse cx="902.3" cy="123.3" rx="8.3" ry="3.0" fill="#669568" fill-opacity="0.4" transform="rotate(69 902.3 123.3)"/>
<line x1="891.4" y1="95.4" x2="904.8" y2="129.5" stroke="#2c5a2e" stroke-width="0.7" stroke-opacity="0.5"/>
<path d="M996.0 103.0 L992.0 100.6 C983.9 93.3 981.2 89.3 975.6 86.4 C969.3 83.4 963.1 83.5 961.1 87.1 C959.5 90.9 963.3 95.9 969.7 98.9 C975.4 101.5 980.2 101.1 991.0 102.8 L995.3 104.5 Z" fill="#316757" stroke="#091411" stroke-width="1.5" stroke-opacity="0.85"/>
<ellipse cx="970.8" cy="91.8" rx="7.7" ry="3.0" fill="#5e887b" fill-opacity="0.4" transform="rotate(-154 970.8 91.8)"/>
<line x1="995.7" y1="103.7" x2="965.2" y2="89.1" stroke="#244d41" stroke-width="0.7" stroke-opacity="0.5"/>
<path d="M997.7 101.9 L996.3 99.3 C994.8 92.3 995.1 88.8 993.0 85.5 C990.4 81.8 986.4 80.3 983.2 82.3 C980.2 84.5 980.2 88.8 982.7 92.5 C985.1 95.7 988.4 96.7 994.5 100.6 L996.4 102.8 Z" fill="#316757" stroke="#091411" stroke-width="1.5" stroke-opacity="0.85"/>
<ellipse cx="987.1" cy="87.9" rx="4.9" ry="2.7" fill="#5e887b" fill-opacity="0.4" transform="rotate(-125 987.1 87.9)"/>
<line x1="997.0" y1="102.3" x2="984.9" y2="84.7" stroke="#244d41" stroke-width="0.7" stroke-opacity="0.5"/>
<path d="M1001.8 102.8 L1004.0 100.6 C1010.5 96.9 1013.9 96.1 1016.6 92.9 C1019.6 89.2 1019.9 84.7 1017.1 82.3 C1014.1 80.1 1009.8 81.4 1006.9 85.1 C1004.4 88.5 1004.4 92.1 1002.2 99.2 L1000.6 101.9 Z" fill="#397051" stroke="#0b1610" stroke-width="1.5" stroke-opacity="0.85"/>
<ellipse cx="1012.6" cy="87.9" rx="5.1" ry="2.7" fill="#648f77" fill-opacity="0.4" transform="rotate(-52 1012.6 87.9)"/>
<line x1="1001.2" y1="102.3" x2="1015.2" y2="84.7" stroke="#2a543c" stroke-width="0.7" stroke-opacity="0.5"/>
<path d="M994.1 108.6 L991.5 108.9 C985.2 107.9 982.4 106.5 979.0 107.3 C975.1 108.3 972.7 111.3 973.5 114.8 C974.5 118.2 978.2 119.6 982.0 118.6 C985.4 117.6 987.1 114.9 992.1 110.9 L994.5 109.9 Z" fill="#316757" stroke="#091411" stroke-width="1.5" stroke-opacity="0.85"/>
<ellipse cx="979.3" cy="113.2" rx="4.3" ry="2.6" fill="#5e887b" fill-opacity="0.4" transform="rotate(165 979.3 113.2)"/>
<line x1="994.3" y1="109.2" x2="976.0" y2="114.1" stroke="#244d41" stroke-width="0.7" stroke-opacity="0.5"/>
<path d="M993.9 110.0 L990.3 111.5 C981.2 113.4 977.0 113.2 972.2 115.5 C966.9 118.3 963.8 122.6 965.2 125.8 C967.0 128.9 972.3 128.8 977.7 126.0 C982.4 123.4 984.6 119.8 991.3 113.4 L994.6 111.3 Z" fill="#2d6351" stroke="#081310" stroke-width="1.5" stroke-opacity="0.85"/>
<ellipse cx="973.4" cy="121.6" rx="6.6" ry="2.6" fill="#5b8577" fill-opacity="0.4" transform="rotate(152 973.4 121.6)"/>
<line x1="994.3" y1="110.6" x2="968.7" y2="124.0" stroke="#214a3c" stroke-width="0.7" stroke-opacity="0.5"/>
<path d="M997.8 111.7 L996.3 113.9 C991.4 118.0 988.4 119.2 986.7 122.3 C984.9 125.8 985.6 129.7 988.7 131.4 C991.9 132.8 995.5 131.1 997.2 127.5 C998.7 124.3 997.9 121.2 998.2 114.8 L999.1 112.3 Z" fill="#316757" stroke="#091411" stroke-width="1.5" stroke-opacity="0.85"/>
<ellipse cx="991.5" cy="125.9" rx="4.3" ry="2.6" fill="#5e887b" fill-opacity="0.4" transform="rotate(117 991.5 125.9)"/>
<line x1="998.4" y1="112.0" x2="989.9" y2="129.0" stroke="#244d41" stroke-width="0.7" stroke-opacity="0.5"/>
<path d="M1002.1 111.2 L1004.1 113.0 C1007.4 118.7 1008.1 121.9 1011.0 124.0 C1014.3 126.3 1018.3 126.1 1020.5 123.1 C1022.6 119.9 1021.4 116.1 1018.1 113.8 C1015.1 111.9 1011.8 112.3 1005.4 111.2 L1003.0 110.0 Z" fill="#316b51" stroke="#091510" stroke-width="1.5" stroke-opacity="0.85"/>
<ellipse cx="1015.5" cy="119.6" rx="4.4" ry="2.7" fill="#5e8b77" fill-opacity="0.4" transform="rotate(35 1015.5 119.6)"/>
<line x1="1002.6" y1="110.6" x2="1018.4" y2="121.6" stroke="#24503c" stroke-width="0.7" stroke-opacity="0.5"/>
<path d="M1004.0 108.6 L1007.3 108.8 C1015.0 111.2 1018.1 113.3 1022.7 113.2 C1027.8 112.9 1031.7 110.2 1031.6 106.5 C1031.3 102.8 1027.1 100.5 1022.0 100.7 C1017.5 101.1 1014.6 103.5 1007.2 106.6 L1003.9 107.1 Z" fill="#468344" stroke="#0d1a0d" stroke-width="1.5" stroke-opacity="0.85"/>
<ellipse cx="1023.9" cy="106.9" rx="5.5" ry="2.7" fill="#6e9e6d" fill-opacity="0.4" transform="rotate(-3 1023.9 106.9)"/>
<line x1="1004.0" y1="107.9" x2="1028.3" y2="106.6" stroke="#346233" stroke-width="0.7" stroke-opacity="0.5"/>
<path d="M860.9 180.1 L857.1 180.1 C848.2 178.4 844.6 176.7 839.3 177.0 C833.5 177.6 829.1 180.2 829.2 183.5 C829.6 186.8 834.4 188.6 840.3 188.1 C845.5 187.5 848.8 185.2 857.3 182.0 L861.0 181.4 Z" fill="#316b51" stroke="#091510" stroke-width="1.5" stroke-opacity="0.85"/>
<ellipse cx="838.1" cy="182.7" rx="6.4" ry="2.4" fill="#5e8b77" fill-opacity="0.4" transform="rotate(175 838.1 182.7)"/>
<line x1="861.0" y1="180.7" x2="833.0" y2="183.1" stroke="#24503c" stroke-width="0.7" stroke-opacity="0.5"/>
<path d="M862.6 177.3 L860.3 175.9 C855.7 171.0 854.2 168.2 850.9 166.5 C847.1 164.7 843.1 165.3 841.6 168.3 C840.3 171.3 842.4 174.7 846.2 176.5 C849.7 178.0 852.8 177.3 859.5 177.7 L862.1 178.5 Z" fill="#316757" stroke="#091411" stroke-width="1.5" stroke-opacity="0.85"/>
<ellipse cx="847.4" cy="171.0" rx="4.6" ry="2.4" fill="#5e887b" fill-opacity="0.4" transform="rotate(-155 847.4 171.0)"/>
<line x1="862.4" y1="177.9" x2="844.1" y2="169.4" stroke="#244d41" stroke-width="0.7" stroke-opacity="0.5"/>
<path d="M864.5 175.1 L864.2 171.2 C865.4 162.0 867.0 158.2 866.2 153.0 C865.2 147.1 861.9 142.9 858.2 143.4 C854.6 144.2 852.9 149.2 853.9 155.1 C855.0 160.3 857.8 163.4 862.0 171.6 L863.0 175.3 Z" fill="#2d6351" stroke="#081310" stroke-width="1.5" stroke-opacity="0.85"/>
<ellipse cx="859.8" cy="152.3" rx="6.5" ry="2.7" fill="#5b8577" fill-opacity="0.4" transform="rotate(-100 859.8 152.3)"/>
<line x1="863.7" y1="175.2" x2="858.9" y2="147.2" stroke="#214a3c" stroke-width="0.7" stroke-opacity="0.5"/>
<path d="M869.7 175.7 L873.5 173.3 C883.2 169.1 887.7 168.3 892.6 164.7 C898.1 160.5 901.0 155.3 899.0 152.4 C896.7 149.7 890.9 151.1 885.5 155.3 C880.7 159.2 878.7 163.3 872.2 171.6 L868.8 174.6 Z" fill="#397051" stroke="#0b1610" stroke-width="1.5" stroke-opacity="0.85"/>
<ellipse cx="890.7" cy="158.8" rx="7.5" ry="2.6" fill="#648f77" fill-opacity="0.4" transform="rotate(-38 890.7 158.8)"/>
<line x1="869.3" y1="175.2" x2="895.4" y2="155.1" stroke="#2a543c" stroke-width="0.7" stroke-opacity="0.5"/>
<path d="M861.8 183.1 L859.5 186.1 C853.0 191.9 849.5 193.7 846.8 197.9 C843.8 202.7 843.5 207.8 846.5 209.7 C849.6 211.4 853.9 208.8 856.8 204.0 C859.3 199.6 859.2 195.7 861.4 187.2 L863.0 183.8 Z" fill="#39784a" stroke="#0b170e" stroke-width="1.5" stroke-opacity="0.85"/>
<ellipse cx="850.9" cy="202.4" rx="6.1" ry="2.6" fill="#649571" fill-opacity="0.4" transform="rotate(121 850.9 202.4)"/>
<line x1="862.4" y1="183.5" x2="848.4" y2="206.6" stroke="#2a5a37" stroke-width="0.7" stroke-opacity="0.5"/>
<path d="M864.5 184.8 L863.8 188.5 C860.6 196.8 858.3 200.0 857.8 205.1 C857.3 210.8 859.1 215.5 862.4 216.0 C865.7 216.1 868.3 211.8 868.8 206.1 C869.1 201.0 867.5 197.4 865.8 188.7 L865.8 184.9 Z" fill="#316b51" stroke="#091510" stroke-width="1.5" stroke-opacity="0.85"/>
<ellipse cx="863.1" cy="207.3" rx="6.2" ry="2.4" fill="#5e8b77" fill-opacity="0.4" transform="rotate(95 863.1 207.3)"/>
<line x1="865.1" y1="184.9" x2="862.7" y2="212.2" stroke="#24503c" stroke-width="0.7" stroke-opacity="0.5"/>
<path d="M867.4 183.9 L869.2 186.7 C872.0 194.0 872.3 197.6 875.1 201.2 C878.3 205.2 882.5 206.9 885.2 204.9 C887.7 202.7 886.9 198.2 883.7 194.3 C880.8 190.8 877.4 189.7 870.7 185.4 L868.4 183.1 Z" fill="#316b51" stroke="#091510" stroke-width="1.5" stroke-opacity="0.85"/>
<ellipse cx="880.3" cy="198.9" rx="5.5" ry="2.4" fill="#5e8b77" fill-opacity="0.4" transform="rotate(51 880.3 198.9)"/>
<line x1="867.9" y1="183.5" x2="883.1" y2="202.3" stroke="#24503c" stroke-width="0.7" stroke-opacity="0.5"/>
<path d="M870.9 179.9 L873.6 179.1 C880.4 178.9 883.4 179.6 887.1 178.3 C891.1 176.8 893.7 173.8 892.8 171.0 C891.6 168.4 887.8 167.8 883.7 169.3 C880.1 170.7 878.3 173.3 873.0 177.5 L870.5 178.8 Z" fill="#316757" stroke="#091411" stroke-width="1.5" stroke-opacity="0.85"/>
<ellipse cx="886.6" cy="173.4" rx="4.7" ry="2.1" fill="#5e887b" fill-opacity="0.4" transform="rotate(-21 886.6 173.4)"/>
<line x1="870.7" y1="179.3" x2="890.1" y2="172.0" stroke="#244d41" stroke-width="0.7" stroke-opacity="0.5"/>
<path d="M953.2 188.4 L949.6 185.7 C942.3 178.1 940.0 174.1 934.9 170.8 C929.0 167.2 923.1 166.6 921.0 169.7 C919.2 172.9 922.6 177.9 928.4 181.4 C933.7 184.5 938.3 184.7 948.4 187.6 L952.4 189.6 Z" fill="#316b51" stroke="#091510" stroke-width="1.5" stroke-opacity="0.85"/>
<ellipse cx="929.9" cy="175.1" rx="7.4" ry="2.7" fill="#5e8b77" fill-opacity="0.4" transform="rotate(-149 929.9 175.1)"/>
<line x1="952.8" y1="189.0" x2="924.8" y2="172.0" stroke="#24503c" stroke-width="0.7" stroke-opacity="0.5"/>
<path d="M951.3 192.5 L947.5 192.5 C938.5 190.9 934.8 189.2 929.6 189.6 C923.8 190.2 919.4 193.1 919.6 196.6 C920.2 200.1 925.0 201.9 930.9 201.3 C936.1 200.6 939.3 198.1 947.7 194.6 L951.5 193.9 Z" fill="#316757" stroke="#091411" stroke-width="1.5" stroke-opacity="0.85"/>
<ellipse cx="928.5" cy="195.6" rx="6.4" ry="2.6" fill="#5e887b" fill-opacity="0.4" transform="rotate(174 928.5 195.6)"/>
<line x1="951.4" y1="193.2" x2="923.4" y2="196.2" stroke="#244d41" stroke-width="0.7" stroke-opacity="0.5"/>
<path d="M960.1 188.3 L964.2 186.4 C974.4 183.6 979.1 183.5 984.4 180.6 C990.4 177.2 993.9 172.3 992.2 169.0 C990.2 165.8 984.2 166.4 978.2 169.8 C973.0 173.0 970.6 176.9 963.1 184.4 L959.3 187.0 Z" fill="#316b51" stroke="#091510" stroke-width="1.5" stroke-opacity="0.85"/>
<ellipse cx="983.1" cy="174.2" rx="7.5" ry="2.7" fill="#5e8b77" fill-opacity="0.4" transform="rotate(-30 983.1 174.2)"/>
<line x1="959.7" y1="187.6" x2="988.3" y2="171.2" stroke="#24503c" stroke-width="0.7" stroke-opacity="0.5"/>
<path d="M961.2 191.1 L966.8 190.7 C979.9 191.5 985.2 192.9 992.8 191.9 C1001.4 190.7 1007.7 187.2 1007.4 183.5 C1006.6 179.8 999.5 178.4 991.0 179.6 C983.4 180.9 978.7 183.9 966.5 188.5 L961.0 189.7 Z" fill="#316b4a" stroke="#09150e" stroke-width="1.5" stroke-opacity="0.85"/>
<ellipse cx="994.4" cy="185.4" rx="9.4" ry="2.7" fill="#5e8b71" fill-opacity="0.4" transform="rotate(-8 994.4 185.4)"/>
<line x1="961.1" y1="190.4" x2="1001.9" y2="184.3" stroke="#245037" stroke-width="0.7" stroke-opacity="0.5"/>
<path d="M960.8 195.2 L963.8 197.2 C970.0 203.4 971.9 206.9 976.3 209.4 C981.2 212.0 986.2 212.1 988.1 209.1 C989.6 205.9 986.8 201.7 981.8 199.0 C977.4 196.8 973.4 197.0 964.8 195.3 L961.4 193.9 Z" fill="#316757" stroke="#091411" stroke-width="1.5" stroke-opacity="0.85"/>
<ellipse cx="980.5" cy="205.0" rx="6.1" ry="2.6" fill="#5e887b" fill-opacity="0.4" transform="rotate(28 980.5 205.0)"/>
<line x1="961.1" y1="194.5" x2="984.8" y2="207.3" stroke="#244d41" stroke-width="0.7" stroke-opacity="0.5"/>
<path d="M960.6 197.8 L963.6 201.2 C969.3 210.3 970.8 214.7 975.1 219.2 C980.1 224.1 985.6 226.5 988.1 224.3 C990.3 221.8 987.9 216.3 982.9 211.3 C978.5 207.0 974.1 205.5 965.0 199.8 L961.6 196.8 Z" fill="#316b51" stroke="#091510" stroke-width="1.5" stroke-opacity="0.85"/>
<ellipse cx="980.5" cy="216.7" rx="7.6" ry="2.4" fill="#5e8b77" fill-opacity="0.4" transform="rotate(45 980.5 216.7)"/>
<line x1="961.1" y1="197.3" x2="984.8" y2="221.0" stroke="#24503c" stroke-width="0.7" stroke-opacity="0.5"/>
<path d="M953.7 196.9 L951.9 198.3 C946.7 200.4 943.9 200.6 941.8 202.8 C939.5 205.3 939.3 208.8 941.7 211.1 C944.3 213.3 947.7 212.7 950.0 210.2 C952.0 207.9 951.8 205.0 953.4 199.6 L954.7 197.7 Z" fill="#316757" stroke="#091411" stroke-width="1.5" stroke-opacity="0.85"/>
<ellipse cx="945.2" cy="207.3" rx="3.7" ry="2.4" fill="#5e887b" fill-opacity="0.4" transform="rotate(132 945.2 207.3)"/>
<line x1="954.2" y1="197.3" x2="943.2" y2="209.5" stroke="#244d41" stroke-width="0.7" stroke-opacity="0.5"/>
<ellipse cx="885.9" cy="85.7" rx="4.1" ry="4.1" fill="#245a4c" transform="rotate(0 885.9 85.7)"/>
<ellipse cx="998.4" cy="106.5" rx="4.1" ry="4.1" fill="#245a4c" transform="rotate(0 998.4 106.5)"/>
<ellipse cx="865.1" cy="179.3" rx="4.1" ry="4.1" fill="#245a4c" transform="rotate(0 865.1 179.3)"/>
<ellipse cx="956.3" cy="191.8" rx="4.1" ry="4.1" fill="#245a4c" transform="rotate(0 956.3 191.8)"/>
<circle cx="1179.5" cy="140" r="116.5" fill="url(#rim2)"/>
<circle cx="1180.4" cy="139.3" r="112.3" fill="#2a0d0a"/>
<ellipse cx="1180.3" cy="141.5" rx="107.3" ry="107.3" fill="#211e19" filter="url(#soil2)"/>
<circle cx="1135.2" cy="84.4" r="35.9" fill="url(#shd)" opacity="0.7"/>
<circle cx="1224.2" cy="121.7" r="33.2" fill="url(#shd)" opacity="0.7"/>
<circle cx="1128.3" cy="194.5" r="35.9" fill="url(#shd)" opacity="0.7"/>
<circle cx="1198.0" cy="194.5" r="33.2" fill="url(#shd)" opacity="0.7"/>
<ellipse cx="1258.8" cy="99.6" rx="7.6" ry="5.5" fill="#c0b0b0" transform="rotate(-20 1258.8 99.6)"/>
<ellipse cx="1246.4" cy="87.1" rx="6.9" ry="2.1" fill="#a89888" transform="rotate(-40 1246.4 87.1)"/>
<ellipse cx="1118.6" cy="226.3" rx="4.1" ry="5.5" fill="#c0b0b8" transform="rotate(0 1118.6 226.3)"/>
<ellipse cx="1191.9" cy="148.9" rx="9.0" ry="6.9" fill="#b0a2a8" transform="rotate(0 1191.9 148.9)"/>
<ellipse cx="1176.7" cy="205.6" rx="13.8" ry="4.8" fill="#a89098" transform="rotate(-10 1176.7 205.6)"/>
<ellipse cx="1215.9" cy="213.9" rx="9.0" ry="4.1" fill="#b8b0b8" transform="rotate(0 1215.9 213.9)"/>
<ellipse cx="1169.8" cy="169.7" rx="5.5" ry="4.8" fill="#a8a890" transform="rotate(0 1169.8 169.7)"/>
<line x1="1133.8" y1="80.2" x2="1128.4" y2="44.4" stroke="#74854d" stroke-width="2.2" stroke-linecap="round"/>
<ellipse cx="1128.4" cy="44.4" rx="14.8" ry="9.0" fill="#9bb267" stroke="#556138" stroke-width="0.9" stroke-opacity="0.7" transform="rotate(-99 1128.4 44.4)"/>
<ellipse cx="1128.4" cy="44.4" rx="8.9" ry="4.3" fill="#afc185" fill-opacity="0.4" transform="rotate(-99 1128.4 44.4)"/>
<line x1="1132.4" y1="81.6" x2="1103.5" y2="57.5" stroke="#736a6e" stroke-width="2.2" stroke-linecap="round"/>
<ellipse cx="1103.5" cy="57.5" rx="15.4" ry="9.7" fill="#9a8e93" stroke="#544e50" stroke-width="0.9" stroke-opacity="0.7" transform="rotate(-140 1103.5 57.5)"/>
<ellipse cx="1103.5" cy="57.5" rx="9.2" ry="4.6" fill="#aea4a8" fill-opacity="0.4" transform="rotate(-140 1103.5 57.5)"/>
<line x1="1132.4" y1="84.4" x2="1104.0" y2="82.4" stroke="#668a4d" stroke-width="2.2" stroke-linecap="round"/>
<ellipse cx="1104.0" cy="82.4" rx="11.7" ry="7.3" fill="#89b967" stroke="#4b6538" stroke-width="0.9" stroke-opacity="0.7" transform="rotate(-176 1104.0 82.4)"/>
<ellipse cx="1104.0" cy="82.4" rx="7.0" ry="3.5" fill="#a0c785" fill-opacity="0.4" transform="rotate(-176 1104.0 82.4)"/>
<line x1="1132.4" y1="89.9" x2="1107.4" y2="107.1" stroke="#716c73" stroke-width="2.2" stroke-linecap="round"/>
<ellipse cx="1107.4" cy="107.1" rx="12.4" ry="7.9" fill="#97909a" stroke="#534f54" stroke-width="0.9" stroke-opacity="0.7" transform="rotate(146 1107.4 107.1)"/>
<ellipse cx="1107.4" cy="107.1" rx="7.4" ry="3.8" fill="#aba6ae" fill-opacity="0.4" transform="rotate(146 1107.4 107.1)"/>
<line x1="1131.0" y1="95.4" x2="1108.5" y2="128.8" stroke="#718542" stroke-width="2.2" stroke-linecap="round"/>
<ellipse cx="1108.5" cy="128.8" rx="16.5" ry="10.4" fill="#97b259" stroke="#536130" stroke-width="0.9" stroke-opacity="0.7" transform="rotate(124 1108.5 128.8)"/>
<ellipse cx="1108.5" cy="128.8" rx="9.9" ry="5.0" fill="#abc17a" fill-opacity="0.4" transform="rotate(124 1108.5 128.8)"/>
<line x1="1138.0" y1="80.2" x2="1152.7" y2="62.1" stroke="#4f813d" stroke-width="2.2" stroke-linecap="round"/>
<ellipse cx="1152.7" cy="62.1" rx="9.5" ry="7.6" fill="#6aac52" stroke="#3a5e2d" stroke-width="0.9" stroke-opacity="0.7" transform="rotate(-51 1152.7 62.1)"/>
<ellipse cx="1152.7" cy="62.1" rx="5.7" ry="3.6" fill="#87bc74" fill-opacity="0.4" transform="rotate(-51 1152.7 62.1)"/>
<line x1="1140.7" y1="83.0" x2="1179.0" y2="65.8" stroke="#768152" stroke-width="2.2" stroke-linecap="round"/>
<ellipse cx="1179.0" cy="65.8" rx="17.1" ry="9.7" fill="#9eac6e" stroke="#565e3c" stroke-width="0.9" stroke-opacity="0.7" transform="rotate(-24 1179.0 65.8)"/>
<ellipse cx="1179.0" cy="65.8" rx="10.3" ry="4.6" fill="#b1bc8b" fill-opacity="0.4" transform="rotate(-24 1179.0 65.8)"/>
<line x1="1140.7" y1="89.9" x2="1165.3" y2="110.0" stroke="#5a8538" stroke-width="2.2" stroke-linecap="round"/>
<ellipse cx="1165.3" cy="110.0" rx="13.0" ry="9.7" fill="#78b24b" stroke="#426129" stroke-width="0.9" stroke-opacity="0.7" transform="rotate(39 1165.3 110.0)"/>
<ellipse cx="1165.3" cy="110.0" rx="7.8" ry="4.6" fill="#93c16f" fill-opacity="0.4" transform="rotate(39 1165.3 110.0)"/>
<line x1="1138.0" y1="92.7" x2="1144.8" y2="111.3" stroke="#717b78" stroke-width="2.2" stroke-linecap="round"/>
<ellipse cx="1144.8" cy="111.3" rx="8.1" ry="8.3" fill="#97a5a1" stroke="#535a58" stroke-width="0.9" stroke-opacity="0.7" transform="rotate(70 1144.8 111.3)"/>
<ellipse cx="1144.8" cy="111.3" rx="4.9" ry="4.0" fill="#abb7b3" fill-opacity="0.4" transform="rotate(70 1144.8 111.3)"/>
<line x1="1149.0" y1="106.5" x2="1165.7" y2="131.0" stroke="#71646c" stroke-width="2.2" stroke-linecap="round"/>
<ellipse cx="1165.7" cy="131.0" rx="12.1" ry="9.0" fill="#978690" stroke="#53494f" stroke-width="0.9" stroke-opacity="0.7" transform="rotate(56 1165.7 131.0)"/>
<ellipse cx="1165.7" cy="131.0" rx="7.3" ry="4.3" fill="#ab9ea6" fill-opacity="0.4" transform="rotate(56 1165.7 131.0)"/>
<line x1="1221.5" y1="114.8" x2="1206.3" y2="85.8" stroke="#4f8138" stroke-width="2.2" stroke-linecap="round"/>
<ellipse cx="1206.3" cy="85.8" rx="13.4" ry="7.9" fill="#6aac4b" stroke="#3a5e29" stroke-width="0.9" stroke-opacity="0.7" transform="rotate(-118 1206.3 85.8)"/>
<ellipse cx="1206.3" cy="85.8" rx="8.0" ry="3.8" fill="#87bc6f" fill-opacity="0.4" transform="rotate(-118 1206.3 85.8)"/>
<line x1="1218.7" y1="117.5" x2="1193.7" y2="90.1" stroke="#71686c" stroke-width="2.2" stroke-linecap="round"/>
<ellipse cx="1193.7" cy="90.1" rx="15.2" ry="6.9" fill="#978b90" stroke="#534c4f" stroke-width="0.9" stroke-opacity="0.7" transform="rotate(-132 1193.7 90.1)"/>
<ellipse cx="1193.7" cy="90.1" rx="9.1" ry="3.3" fill="#aba2a6" fill-opacity="0.4" transform="rotate(-132 1193.7 90.1)"/>
<line x1="1221.5" y1="121.7" x2="1201.4" y2="121.2" stroke="#45813d" stroke-width="2.2" stroke-linecap="round"/>
<ellipse cx="1201.4" cy="121.2" rx="8.2" ry="5.9" fill="#5cac52" stroke="#325e2d" stroke-width="0.9" stroke-opacity="0.7" transform="rotate(-179 1201.4 121.2)"/>
<ellipse cx="1201.4" cy="121.2" rx="4.9" ry="2.8" fill="#7cbc74" fill-opacity="0.4" transform="rotate(-179 1201.4 121.2)"/>
<line x1="1227.0" y1="120.3" x2="1248.1" y2="109.0" stroke="#618152" stroke-width="2.2" stroke-linecap="round"/>
<ellipse cx="1248.1" cy="109.0" rx="9.8" ry="6.2" fill="#82ac6e" stroke="#475e3c" stroke-width="0.9" stroke-opacity="0.7" transform="rotate(-28 1248.1 109.0)"/>
<ellipse cx="1248.1" cy="109.0" rx="5.9" ry="3.0" fill="#9bbc8b" fill-opacity="0.4" transform="rotate(-28 1248.1 109.0)"/>
<line x1="1229.8" y1="124.5" x2="1265.6" y2="132.3" stroke="#6c7b48" stroke-width="2.2" stroke-linecap="round"/>
<ellipse cx="1265.6" cy="132.3" rx="15.0" ry="7.6" fill="#90a560" stroke="#4f5a34" stroke-width="0.9" stroke-opacity="0.7" transform="rotate(12 1265.6 132.3)"/>
<ellipse cx="1265.6" cy="132.3" rx="9.0" ry="3.6" fill="#a6b77f" fill-opacity="0.4" transform="rotate(12 1265.6 132.3)"/>
<line x1="1224.0" y1="128.2" x2="1222.2" y2="158.1" stroke="#528338" stroke-width="2.2" stroke-linecap="round"/>
<ellipse cx="1222.2" cy="158.1" rx="12.2" ry="7.6" fill="#6eaf4b" stroke="#3c6029" stroke-width="0.9" stroke-opacity="0.7" transform="rotate(93 1222.2 158.1)"/>
<ellipse cx="1222.2" cy="158.1" rx="7.3" ry="3.6" fill="#8bbf6f" fill-opacity="0.4" transform="rotate(93 1222.2 158.1)"/>
<line x1="1227.0" y1="126.8" x2="1238.3" y2="159.7" stroke="#716469" stroke-width="2.2" stroke-linecap="round"/>
<ellipse cx="1238.3" cy="159.7" rx="14.2" ry="6.2" fill="#97868d" stroke="#53494d" stroke-width="0.9" stroke-opacity="0.7" transform="rotate(71 1238.3 159.7)"/>
<ellipse cx="1238.3" cy="159.7" rx="8.5" ry="3.0" fill="#ab9ea3" fill-opacity="0.4" transform="rotate(71 1238.3 159.7)"/>
<line x1="1124.1" y1="195.9" x2="1089.8" y2="205.7" stroke="#577633" stroke-width="2.2" stroke-linecap="round"/>
<ellipse cx="1089.8" cy="205.7" rx="14.6" ry="8.3" fill="#749e44" stroke="#3f5625" stroke-width="0.9" stroke-opacity="0.7" transform="rotate(164 1089.8 205.7)"/>
<ellipse cx="1089.8" cy="205.7" rx="8.8" ry="4.0" fill="#8fb169" fill-opacity="0.4" transform="rotate(164 1089.8 205.7)"/>
<line x1="1118.6" y1="189.0" x2="1095.0" y2="174.3" stroke="#6c6366" stroke-width="2.2" stroke-linecap="round"/>
<ellipse cx="1095.0" cy="174.3" rx="11.3" ry="5.9" fill="#908489" stroke="#4f484b" stroke-width="0.9" stroke-opacity="0.7" transform="rotate(-148 1095.0 174.3)"/>
<ellipse cx="1095.0" cy="174.3" rx="6.8" ry="2.8" fill="#a69ca0" fill-opacity="0.4" transform="rotate(-148 1095.0 174.3)"/>
<line x1="1124.1" y1="190.4" x2="1111.4" y2="177.1" stroke="#52813d" stroke-width="2.2" stroke-linecap="round"/>
<ellipse cx="1111.4" cy="177.1" rx="7.5" ry="6.6" fill="#6eac52" stroke="#3c5e2d" stroke-width="0.9" stroke-opacity="0.7" transform="rotate(-134 1111.4 177.1)"/>
<ellipse cx="1111.4" cy="177.1" rx="4.5" ry="3.2" fill="#8bbc74" fill-opacity="0.4" transform="rotate(-134 1111.4 177.1)"/>
<line x1="1127.6" y1="189.0" x2="1120.7" y2="154.7" stroke="#7b8166" stroke-width="2.2" stroke-linecap="round"/>
<ellipse cx="1120.7" cy="154.7" rx="14.3" ry="6.6" fill="#a5ac89" stroke="#5a5e4b" stroke-width="0.9" stroke-opacity="0.7" transform="rotate(-101 1120.7 154.7)"/>
<ellipse cx="1120.7" cy="154.7" rx="8.6" ry="3.2" fill="#b7bca0" fill-opacity="0.4" transform="rotate(-101 1120.7 154.7)"/>
<line x1="1133.8" y1="189.0" x2="1146.6" y2="160.5" stroke="#618142" stroke-width="2.2" stroke-linecap="round"/>
<ellipse cx="1146.6" cy="160.5" rx="12.7" ry="7.6" fill="#82ac59" stroke="#475e30" stroke-width="0.9" stroke-opacity="0.7" transform="rotate(-66 1146.6 160.5)"/>
<ellipse cx="1146.6" cy="160.5" rx="7.6" ry="3.6" fill="#9bbc7a" fill-opacity="0.4" transform="rotate(-66 1146.6 160.5)"/>
<line x1="1135.2" y1="193.2" x2="1159.2" y2="191.2" stroke="#6c666c" stroke-width="2.2" stroke-linecap="round"/>
<ellipse cx="1159.2" cy="191.2" rx="9.9" ry="5.9" fill="#908990" stroke="#4f4b4f" stroke-width="0.9" stroke-opacity="0.7" transform="rotate(-5 1159.2 191.2)"/>
<ellipse cx="1159.2" cy="191.2" rx="5.9" ry="2.8" fill="#a6a0a6" fill-opacity="0.4" transform="rotate(-5 1159.2 191.2)"/>
<line x1="1133.8" y1="200.1" x2="1165.2" y2="221.2" stroke="#717b42" stroke-width="2.2" stroke-linecap="round"/>
<ellipse cx="1165.2" cy="221.2" rx="15.5" ry="7.9" fill="#97a559" stroke="#535a30" stroke-width="0.9" stroke-opacity="0.7" transform="rotate(34 1165.2 221.2)"/>
<ellipse cx="1165.2" cy="221.2" rx="9.3" ry="3.8" fill="#abb77a" fill-opacity="0.4" transform="rotate(34 1165.2 221.2)"/>
<line x1="1128.3" y1="200.1" x2="1131.7" y2="224.1" stroke="#528133" stroke-width="2.2" stroke-linecap="round"/>
<ellipse cx="1131.7" cy="224.1" rx="9.9" ry="6.9" fill="#6eac44" stroke="#3c5e25" stroke-width="0.9" stroke-opacity="0.7" transform="rotate(82 1131.7 224.1)"/>
<ellipse cx="1131.7" cy="224.1" rx="6.0" ry="3.3" fill="#8bbc69" fill-opacity="0.4" transform="rotate(82 1131.7 224.1)"/>
<line x1="1122.7" y1="201.4" x2="1107.0" y2="232.9" stroke="#7b6c6c" stroke-width="2.2" stroke-linecap="round"/>
<ellipse cx="1107.0" cy="232.9" rx="14.3" ry="6.9" fill="#a59090" stroke="#5a4f4f" stroke-width="0.9" stroke-opacity="0.7" transform="rotate(117 1107.0 232.9)"/>
<ellipse cx="1107.0" cy="232.9" rx="8.6" ry="3.3" fill="#b7a6a6" fill-opacity="0.4" transform="rotate(117 1107.0 232.9)"/>
<line x1="1202.1" y1="191.8" x2="1223.7" y2="184.9" stroke="#386c3d" stroke-width="2.2" stroke-linecap="round"/>
<ellipse cx="1223.7" cy="184.9" rx="9.3" ry="6.2" fill="#4b9052" stroke="#294f2d" stroke-width="0.9" stroke-opacity="0.7" transform="rotate(-18 1223.7 184.9)"/>
<ellipse cx="1223.7" cy="184.9" rx="5.6" ry="3.0" fill="#6fa674" fill-opacity="0.4" transform="rotate(-18 1223.7 184.9)"/>
<line x1="1207.7" y1="197.3" x2="1244.0" y2="203.7" stroke="#7b6c71" stroke-width="2.2" stroke-linecap="round"/>
<ellipse cx="1244.0" cy="203.7" rx="15.1" ry="6.6" fill="#a59097" stroke="#5a4f53" stroke-width="0.9" stroke-opacity="0.7" transform="rotate(10 1244.0 203.7)"/>
<ellipse cx="1244.0" cy="203.7" rx="9.0" ry="3.2" fill="#b7a6ab" fill-opacity="0.4" transform="rotate(10 1244.0 203.7)"/>
<line x1="1210.4" y1="201.4" x2="1237.4" y2="213.2" stroke="#578133" stroke-width="2.2" stroke-linecap="round"/>
<ellipse cx="1237.4" cy="213.2" rx="12.0" ry="5.5" fill="#74ac44" stroke="#3f5e25" stroke-width="0.9" stroke-opacity="0.7" transform="rotate(24 1237.4 213.2)"/>
<ellipse cx="1237.4" cy="213.2" rx="7.2" ry="2.7" fill="#8fbc69" fill-opacity="0.4" transform="rotate(24 1237.4 213.2)"/>
<line x1="1200.7" y1="204.2" x2="1207.1" y2="228.8" stroke="#818361" stroke-width="2.2" stroke-linecap="round"/>
<ellipse cx="1207.1" cy="228.8" rx="10.4" ry="5.9" fill="#acaf82" stroke="#5e6047" stroke-width="0.9" stroke-opacity="0.7" transform="rotate(75 1207.1 228.8)"/>
<ellipse cx="1207.1" cy="228.8" rx="6.2" ry="2.8" fill="#bcbf9b" fill-opacity="0.4" transform="rotate(75 1207.1 228.8)"/>
<line x1="1196.6" y1="201.4" x2="1188.7" y2="221.6" stroke="#487b33" stroke-width="2.2" stroke-linecap="round"/>
<ellipse cx="1188.7" cy="221.6" rx="8.8" ry="6.2" fill="#60a544" stroke="#345a25" stroke-width="0.9" stroke-opacity="0.7" transform="rotate(111 1188.7 221.6)"/>
<ellipse cx="1188.7" cy="221.6" rx="5.3" ry="3.0" fill="#7fb769" fill-opacity="0.4" transform="rotate(111 1188.7 221.6)"/>
<line x1="1195.2" y1="194.5" x2="1171.6" y2="201.4" stroke="#6c5c61" stroke-width="2.2" stroke-linecap="round"/>
<ellipse cx="1171.6" cy="201.4" rx="10.0" ry="5.2" fill="#907b82" stroke="#4f4347" stroke-width="0.9" stroke-opacity="0.7" transform="rotate(164 1171.6 201.4)"/>
<ellipse cx="1171.6" cy="201.4" rx="6.0" ry="2.5" fill="#a6959b" fill-opacity="0.4" transform="rotate(164 1171.6 201.4)"/>
<line x1="1196.6" y1="190.4" x2="1185.8" y2="163.9" stroke="#528138" stroke-width="2.2" stroke-linecap="round"/>
<ellipse cx="1185.8" cy="163.9" rx="11.7" ry="7.3" fill="#6eac4b" stroke="#3c5e29" stroke-width="0.9" stroke-opacity="0.7" transform="rotate(-112 1185.8 163.9)"/>
<ellipse cx="1185.8" cy="163.9" rx="7.0" ry="3.5" fill="#8bbc6f" fill-opacity="0.4" transform="rotate(-112 1185.8 163.9)"/>
<line x1="1199.4" y1="189.0" x2="1205.2" y2="170.4" stroke="#767b61" stroke-width="2.2" stroke-linecap="round"/>
<ellipse cx="1205.2" cy="170.4" rx="8.0" ry="4.1" fill="#9ea582" stroke="#565a47" stroke-width="0.9" stroke-opacity="0.7" transform="rotate(-72 1205.2 170.4)"/>
<ellipse cx="1205.2" cy="170.4" rx="4.8" ry="2.0" fill="#b1b79b" fill-opacity="0.4" transform="rotate(-72 1205.2 170.4)"/>
<path d="M1134.3 82.6 L1132.3 79.4 C1131.3 74.4 1131.6 71.9 1130.0 69.5 C1128.2 67.0 1125.1 66.1 1122.7 67.8 C1120.5 69.6 1120.3 72.7 1122.2 75.2 C1123.9 77.4 1126.4 77.9 1130.9 80.5 L1133.3 83.3 Z" fill="#2e6e4c" stroke="#09150f" stroke-width="1.2" stroke-opacity="0.8"/>
<ellipse cx="1125.8" cy="72.0" rx="3.8" ry="2.1" fill="#5b8d73" fill-opacity="0.4" transform="rotate(-126 1125.8 72.0)"/>
<line x1="1133.8" y1="83.0" x2="1124.1" y2="69.6" stroke="#225239" stroke-width="0.7" stroke-opacity="0.5"/>
<path d="M1136.5 84.9 L1140.0 85.9 C1144.1 88.9 1145.5 90.9 1148.2 91.5 C1151.2 92.1 1153.9 90.7 1154.5 87.8 C1155.0 85.0 1153.0 82.6 1150.0 82.0 C1147.3 81.6 1145.2 83.0 1140.3 84.2 L1136.7 83.8 Z" fill="#3b8059" stroke="#0b1911" stroke-width="1.2" stroke-opacity="0.8"/>
<ellipse cx="1149.5" cy="86.9" rx="3.7" ry="2.1" fill="#669b7d" fill-opacity="0.4" transform="rotate(11 1149.5 86.9)"/>
<line x1="1136.6" y1="84.4" x2="1152.4" y2="87.4" stroke="#2c6042" stroke-width="0.7" stroke-opacity="0.5"/>
<path d="M1133.6 85.2 L1130.8 85.7 C1126.7 84.7 1124.9 83.5 1122.8 84.0 C1120.5 84.7 1119.2 87.1 1120.0 89.9 C1120.9 92.7 1123.3 94.0 1125.6 93.3 C1127.6 92.6 1128.5 90.5 1131.3 87.4 L1134.0 86.3 Z" fill="#2e6e4c" stroke="#09150f" stroke-width="1.2" stroke-opacity="0.8"/>
<ellipse cx="1123.9" cy="88.7" rx="2.9" ry="2.1" fill="#5b8d73" fill-opacity="0.4" transform="rotate(163 1123.9 88.7)"/>
<line x1="1133.8" y1="85.7" x2="1121.6" y2="89.4" stroke="#225239" stroke-width="0.7" stroke-opacity="0.5"/>
<path d="M1136.1 87.4 L1136.9 89.7 C1136.4 93.4 1135.4 95.3 1136.1 97.0 C1137.0 98.8 1139.5 99.4 1142.1 98.2 C1144.7 96.8 1145.7 94.5 1144.7 92.7 C1143.8 91.1 1141.7 90.7 1138.5 89.0 L1137.1 86.9 Z" fill="#2e734c" stroke="#09160f" stroke-width="1.2" stroke-opacity="0.8"/>
<ellipse cx="1140.6" cy="95.1" rx="2.5" ry="2.1" fill="#5b9173" fill-opacity="0.4" transform="rotate(63 1140.6 95.1)"/>
<line x1="1136.6" y1="87.1" x2="1141.4" y2="96.9" stroke="#225639" stroke-width="0.7" stroke-opacity="0.5"/>
<path d="M1135.8 81.5 L1135.8 79.0 C1137.6 75.7 1139.1 74.3 1139.0 72.4 C1138.8 70.3 1136.7 68.9 1133.8 69.2 C1130.9 69.5 1129.2 71.4 1129.4 73.5 C1129.7 75.3 1131.6 76.4 1134.0 79.2 L1134.6 81.7 Z" fill="#2e6e4c" stroke="#09150f" stroke-width="1.2" stroke-opacity="0.8"/>
<ellipse cx="1134.2" cy="72.6" rx="2.5" ry="2.1" fill="#5b8d73" fill-opacity="0.4" transform="rotate(-96 1134.2 72.6)"/>
<line x1="1135.2" y1="81.6" x2="1134.0" y2="70.6" stroke="#225239" stroke-width="0.7" stroke-opacity="0.5"/>
<path d="M1223.5 120.2 L1223.6 117.4 C1225.7 113.8 1227.5 112.2 1227.4 110.1 C1227.2 107.8 1224.8 106.2 1221.5 106.5 C1218.2 106.9 1216.2 108.9 1216.4 111.2 C1216.7 113.3 1218.8 114.5 1221.6 117.6 L1222.2 120.4 Z" fill="#2e734c" stroke="#09160f" stroke-width="1.2" stroke-opacity="0.8"/>
<ellipse cx="1221.9" cy="110.4" rx="2.8" ry="2.4" fill="#5b9173" fill-opacity="0.4" transform="rotate(-96 1221.9 110.4)"/>
<line x1="1222.9" y1="120.3" x2="1221.6" y2="108.1" stroke="#225639" stroke-width="0.7" stroke-opacity="0.5"/>
<path d="M1225.1 123.4 L1226.7 126.9 C1227.0 132.2 1226.2 134.9 1227.6 137.4 C1229.2 140.2 1232.4 141.3 1235.3 139.7 C1238.1 137.9 1238.8 134.6 1237.1 131.8 C1235.6 129.4 1232.9 128.8 1228.4 125.9 L1226.2 122.7 Z" fill="#49994c" stroke="#0e1e0f" stroke-width="1.2" stroke-opacity="0.8"/>
<ellipse cx="1232.6" cy="135.0" rx="3.8" ry="2.4" fill="#71af73" fill-opacity="0.4" transform="rotate(60 1232.6 135.0)"/>
<line x1="1225.6" y1="123.1" x2="1234.1" y2="137.7" stroke="#367239" stroke-width="0.7" stroke-opacity="0.5"/>
<path d="M1221.0 122.8 L1219.3 125.1 C1215.8 127.2 1213.5 127.6 1212.4 129.4 C1211.3 131.5 1212.1 134.0 1214.6 135.5 C1217.1 136.9 1219.7 136.2 1220.9 134.1 C1221.8 132.2 1221.0 130.1 1220.9 126.0 L1222.0 123.4 Z" fill="#2e734c" stroke="#09160f" stroke-width="1.2" stroke-opacity="0.8"/>
<ellipse cx="1216.5" cy="132.0" rx="2.8" ry="2.1" fill="#5b9173" fill-opacity="0.4" transform="rotate(119 1216.5 132.0)"/>
<line x1="1221.5" y1="123.1" x2="1215.4" y2="134.0" stroke="#225639" stroke-width="0.7" stroke-opacity="0.5"/>
<path d="M1225.8 120.8 L1228.4 119.9 C1232.2 120.2 1234.1 121.0 1236.0 120.3 C1238.0 119.3 1239.0 117.1 1238.1 114.8 C1237.0 112.5 1234.7 111.7 1232.6 112.7 C1230.8 113.6 1230.2 115.5 1227.8 118.5 L1225.4 119.9 Z" fill="#2e6e4c" stroke="#09150f" stroke-width="1.2" stroke-opacity="0.8"/>
<ellipse cx="1234.6" cy="116.3" rx="2.7" ry="1.8" fill="#5b8d73" fill-opacity="0.4" transform="rotate(-24 1234.6 116.3)"/>
<line x1="1225.6" y1="120.3" x2="1236.6" y2="115.4" stroke="#225239" stroke-width="0.7" stroke-opacity="0.5"/>
<path d="M1126.6 195.4 L1124.0 196.5 C1119.9 196.4 1117.8 195.6 1115.9 196.5 C1113.8 197.7 1113.1 200.3 1114.4 202.8 C1115.9 205.3 1118.5 206.1 1120.6 205.0 C1122.4 203.8 1122.8 201.6 1124.8 198.1 L1127.2 196.4 Z" fill="#2e6e4c" stroke="#09150f" stroke-width="1.2" stroke-opacity="0.8"/>
<ellipse cx="1117.9" cy="200.9" rx="2.8" ry="2.1" fill="#5b8d73" fill-opacity="0.4" transform="rotate(151 1117.9 200.9)"/>
<line x1="1126.9" y1="195.9" x2="1115.9" y2="202.0" stroke="#225239" stroke-width="0.7" stroke-opacity="0.5"/>
<path d="M1129.7 195.2 L1132.7 195.5 C1136.5 198.0 1138.0 200.0 1140.2 200.1 C1142.8 200.1 1144.8 197.9 1144.9 194.5 C1144.8 191.2 1142.8 189.0 1140.2 189.0 C1138.0 189.1 1136.5 191.1 1132.7 193.5 L1129.7 193.9 Z" fill="#498c40" stroke="#0e1b0c" stroke-width="1.2" stroke-opacity="0.8"/>
<ellipse cx="1140.6" cy="194.5" rx="3.0" ry="2.4" fill="#71a56a" fill-opacity="0.4" transform="rotate(0 1140.6 194.5)"/>
<line x1="1129.7" y1="194.5" x2="1143.0" y2="194.5" stroke="#366930" stroke-width="0.7" stroke-opacity="0.5"/>
<path d="M1128.8 193.3 L1129.6 190.8 C1132.0 188.1 1133.8 187.2 1134.2 185.4 C1134.7 183.3 1133.5 181.3 1131.0 180.7 C1128.6 180.2 1126.6 181.5 1126.2 183.6 C1125.8 185.5 1127.0 187.0 1128.1 190.5 L1127.8 193.0 Z" fill="#59868c" stroke="#111a1b" stroke-width="1.2" stroke-opacity="0.8"/>
<ellipse cx="1130.3" cy="184.2" rx="2.5" ry="1.8" fill="#7da0a5" fill-opacity="0.4" transform="rotate(-77 1130.3 184.2)"/>
<line x1="1128.3" y1="193.2" x2="1130.7" y2="182.2" stroke="#426469" stroke-width="0.7" stroke-opacity="0.5"/>
<path d="M1129.3 197.7 L1130.8 199.5 C1131.6 202.8 1131.3 204.7 1132.5 206.0 C1133.9 207.4 1136.2 207.3 1138.0 205.6 C1139.7 203.8 1139.8 201.5 1138.4 200.1 C1137.1 199.0 1135.2 199.2 1131.8 198.4 L1130.0 197.0 Z" fill="#2e6e4c" stroke="#09150f" stroke-width="1.2" stroke-opacity="0.8"/>
<ellipse cx="1135.6" cy="203.3" rx="2.3" ry="1.8" fill="#5b8d73" fill-opacity="0.4" transform="rotate(45 1135.6 203.3)"/>
<line x1="1129.7" y1="197.3" x2="1137.0" y2="204.6" stroke="#225239" stroke-width="0.7" stroke-opacity="0.5"/>
<path d="M1198.4 192.7 L1196.7 190.6 C1195.8 186.7 1196.0 184.5 1194.7 183.0 C1193.0 181.4 1190.4 181.5 1188.3 183.5 C1186.3 185.6 1186.2 188.2 1187.8 189.8 C1189.3 191.2 1191.5 190.9 1195.4 191.8 L1197.6 193.6 Z" fill="#2e6e4c" stroke="#09150f" stroke-width="1.2" stroke-opacity="0.8"/>
<ellipse cx="1191.0" cy="186.2" rx="2.7" ry="2.1" fill="#5b8d73" fill-opacity="0.4" transform="rotate(-135 1191.0 186.2)"/>
<line x1="1198.0" y1="193.2" x2="1189.5" y2="184.6" stroke="#225239" stroke-width="0.7" stroke-opacity="0.5"/>
<path d="M1199.6 195.1 L1202.0 194.2 C1205.7 194.7 1207.5 195.8 1209.2 195.0 C1211.1 194.1 1211.7 191.6 1210.4 189.0 C1209.1 186.4 1206.7 185.4 1204.9 186.4 C1203.3 187.3 1203.0 189.4 1201.2 192.7 L1199.1 194.0 Z" fill="#2e734c" stroke="#09160f" stroke-width="1.2" stroke-opacity="0.8"/>
<ellipse cx="1207.3" cy="190.6" rx="2.5" ry="2.1" fill="#5b9173" fill-opacity="0.4" transform="rotate(-27 1207.3 190.6)"/>
<line x1="1199.4" y1="194.5" x2="1209.1" y2="189.7" stroke="#225639" stroke-width="0.7" stroke-opacity="0.5"/>
<path d="M1198.9 197.6 L1200.0 199.7 C1200.0 203.4 1199.3 205.4 1200.2 206.9 C1201.4 208.5 1203.9 208.6 1206.3 207.0 C1208.6 205.2 1209.3 202.8 1208.1 201.2 C1207.0 199.8 1204.9 199.9 1201.4 198.7 L1199.8 197.0 Z" fill="#2e6e4c" stroke="#09150f" stroke-width="1.2" stroke-opacity="0.8"/>
<ellipse cx="1204.3" cy="204.3" rx="2.4" ry="2.1" fill="#5b8d73" fill-opacity="0.4" transform="rotate(54 1204.3 204.3)"/>
<line x1="1199.4" y1="197.3" x2="1205.4" y2="205.8" stroke="#225239" stroke-width="0.7" stroke-opacity="0.5"/>
<path d="M1196.5 195.3 L1194.5 195.3 C1191.8 193.6 1190.6 192.0 1189.2 192.1 C1187.6 192.3 1186.6 194.4 1186.9 197.3 C1187.4 200.2 1188.9 201.9 1190.5 201.7 C1192.0 201.4 1192.7 199.5 1194.8 197.1 L1196.7 196.5 Z" fill="#2e6e4c" stroke="#09150f" stroke-width="1.2" stroke-opacity="0.8"/>
<ellipse cx="1189.6" cy="196.9" rx="2.0" ry="2.1" fill="#5b8d73" fill-opacity="0.4" transform="rotate(172 1189.6 196.9)"/>
<line x1="1196.6" y1="195.9" x2="1188.1" y2="197.1" stroke="#225239" stroke-width="0.7" stroke-opacity="0.5"/>
<ellipse cx="1135.2" cy="84.4" rx="3.1" ry="3.1" fill="#225444" transform="rotate(0 1135.2 84.4)"/>
<ellipse cx="1224.2" cy="121.7" rx="3.1" ry="3.1" fill="#225444" transform="rotate(0 1224.2 121.7)"/>
<ellipse cx="1128.3" cy="194.5" rx="3.1" ry="3.1" fill="#225444" transform="rotate(0 1128.3 194.5)"/>
<ellipse cx="1198.0" cy="194.5" rx="3.1" ry="3.1" fill="#225444" transform="rotate(0 1198.0 194.5)"/>
<circle cx="1441" cy="140.5" r="119.5" fill="url(#rim3)"/>
<circle cx="1441.9" cy="139.8" r="115.5" fill="#43160f"/>
<path d="M1401.3 42.2 A106 106 0 0 1 1511.9 61.7" fill="none" stroke="#8a2a20" stroke-width="17" stroke-linecap="round" filter="url(#soft2)"/>
<ellipse cx="1441.8" cy="151.0" rx="110" ry="104" fill="#231a15" filter="url(#soil3)"/>
<circle cx="1395.4" cy="92.7" r="59.4" fill="url(#shd)"/>
<circle cx="1495.5" cy="98.2" r="59.4" fill="url(#shd)"/>
<circle cx="1385.7" cy="165.5" r="55.3" fill="url(#shd)"/>
<circle cx="1477.5" cy="175.2" r="55.3" fill="url(#shd)"/>
<ellipse cx="1380.2" cy="102.3" rx="7.6" ry="4.1" fill="#d8c8a0" transform="rotate(20 1380.2 102.3)"/>
<ellipse cx="1387.1" cy="120.3" rx="6.2" ry="8.3" fill="#d0c098" transform="rotate(0 1387.1 120.3)"/>
<ellipse cx="1534.2" cy="74.7" rx="11.8" ry="4.8" fill="#c0a8a0" transform="rotate(-15 1534.2 74.7)"/>
<ellipse cx="1444.2" cy="105.4" rx="20.0" ry="12.4" fill="#529a50" transform="rotate(-15 1444.2 105.4)"/>
<ellipse cx="1433.5" cy="132.2" rx="18.0" ry="11.8" fill="#86b868" transform="rotate(-30 1433.5 132.2)"/>
<ellipse cx="1461.6" cy="122.8" rx="8.3" ry="11.8" fill="#90c070" transform="rotate(10 1461.6 122.8)"/>
<ellipse cx="1458.9" cy="157.6" rx="10.4" ry="20.7" fill="#70a84c" transform="rotate(5 1458.9 157.6)"/>
<ellipse cx="1441.5" cy="146.9" rx="11.1" ry="9.0" fill="#509a50" transform="rotate(20 1441.5 146.9)"/>
<ellipse cx="1402.7" cy="129.5" rx="9.0" ry="17.3" fill="#46904f" transform="rotate(0 1402.7 129.5)"/>
<ellipse cx="1424.1" cy="90.7" rx="12.4" ry="6.9" fill="#509a50" transform="rotate(-10 1424.1 90.7)"/>
<ellipse cx="1424.1" cy="180.3" rx="19.4" ry="11.1" fill="#58a648" transform="rotate(-10 1424.1 180.3)"/>
<ellipse cx="1429.5" cy="165.6" rx="12.4" ry="5.5" fill="#b0b888" transform="rotate(-10 1429.5 165.6)"/>
<ellipse cx="1480.3" cy="133.5" rx="9.0" ry="19.4" fill="#46904f" transform="rotate(10 1480.3 133.5)"/>
<ellipse cx="1496.4" cy="146.9" rx="6.9" ry="20.7" fill="#60a84a" transform="rotate(5 1496.4 146.9)"/>
<ellipse cx="1444.2" cy="82.7" rx="10.4" ry="6.9" fill="#90c070" transform="rotate(0 1444.2 82.7)"/>
<ellipse cx="1388.0" cy="120.1" rx="6.2" ry="7.6" fill="#c0b890" transform="rotate(0 1388.0 120.1)"/>
<ellipse cx="1335.9" cy="180.7" rx="6.9" ry="9.0" fill="#d0b8b0" transform="rotate(20 1335.9 180.7)"/>
<ellipse cx="1428.6" cy="165.5" rx="12.4" ry="5.5" fill="#d0d098" transform="rotate(-10 1428.6 165.5)"/>
<ellipse cx="1519.0" cy="155.8" rx="10.4" ry="8.3" fill="#b0a898" transform="rotate(-30 1519.0 155.8)"/>
<ellipse cx="1492.7" cy="205.6" rx="4.1" ry="9.7" fill="#c8b888" transform="rotate(-20 1492.7 205.6)"/>
<ellipse cx="1433.3" cy="166.9" rx="6.9" ry="5.5" fill="#b8b890" transform="rotate(0 1433.3 166.9)"/>
<ellipse cx="1440.2" cy="147.5" rx="11.1" ry="6.2" fill="#48a058" transform="rotate(0 1440.2 147.5)"/>
<path d="M1392.6 83.5 L1385.3 71.3 C1382.7 57.1 1383.6 50.1 1379.4 43.4 C1374.4 36.0 1366.1 33.2 1359.4 37.4 C1353.1 42.0 1352.6 50.7 1357.6 58.1 C1362.3 64.5 1369.2 66.2 1381.3 73.9 L1389.9 85.2 Z" fill="#a7bb76" stroke="#323823" stroke-width="1.2" stroke-opacity="0.8"/>
<ellipse cx="1368.4" cy="50.5" rx="11.4" ry="5.8" fill="#bac994" fill-opacity="0.4" transform="rotate(-124 1368.4 50.5)"/>
<line x1="1391.2" y1="84.4" x2="1363.3" y2="43.0" stroke="#7d8c58" stroke-width="0.7" stroke-opacity="0.5"/>
<path d="M1403.4 85.0 L1410.5 73.9 C1420.6 65.6 1426.2 63.2 1430.1 56.9 C1434.2 49.8 1433.8 42.1 1428.6 38.7 C1423.1 35.9 1416.2 39.4 1412.1 46.6 C1408.6 53.0 1409.4 59.1 1407.3 72.0 L1401.2 83.7 Z" fill="#84b461" stroke="#27361d" stroke-width="1.2" stroke-opacity="0.8"/>
<ellipse cx="1421.2" cy="51.5" rx="10.5" ry="4.6" fill="#9fc483" fill-opacity="0.4" transform="rotate(-60 1421.2 51.5)"/>
<line x1="1402.3" y1="84.4" x2="1425.4" y2="44.2" stroke="#638748" stroke-width="0.7" stroke-opacity="0.5"/>
<path d="M1386.0 86.1 L1375.9 83.1 C1367.3 77.0 1364.3 73.0 1358.6 71.5 C1352.2 69.9 1346.4 72.3 1344.9 77.4 C1343.9 82.7 1348.1 87.4 1354.5 89.0 C1360.2 90.1 1364.8 87.9 1375.1 86.3 L1385.5 88.2 Z" fill="#b4a099" stroke="#36302d" stroke-width="1.2" stroke-opacity="0.8"/>
<ellipse cx="1356.4" cy="80.2" rx="8.4" ry="4.0" fill="#c4b4af" fill-opacity="0.4" transform="rotate(-167 1356.4 80.2)"/>
<line x1="1385.7" y1="87.1" x2="1349.8" y2="78.6" stroke="#877872" stroke-width="0.7" stroke-opacity="0.5"/>
<path d="M1388.1 97.0 L1375.7 100.3 C1363.0 99.6 1357.3 97.6 1350.4 99.5 C1342.7 101.9 1337.9 107.6 1339.4 113.4 C1341.4 119.1 1348.7 121.0 1356.4 118.6 C1363.1 116.3 1366.6 111.5 1376.7 103.7 L1388.8 99.3 Z" fill="#99bb6f" stroke="#2d3821" stroke-width="1.2" stroke-opacity="0.8"/>
<ellipse cx="1353.1" cy="109.1" rx="10.3" ry="4.4" fill="#afc98e" fill-opacity="0.4" transform="rotate(163 1353.1 109.1)"/>
<line x1="1388.5" y1="98.2" x2="1345.3" y2="111.6" stroke="#728c53" stroke-width="0.7" stroke-opacity="0.5"/>
<path d="M1388.0 106.9 L1376.3 112.7 C1363.8 115.0 1358.0 114.5 1351.6 117.8 C1344.4 121.7 1340.5 127.9 1342.9 132.8 C1345.7 137.4 1353.0 137.4 1360.2 133.5 C1366.4 129.9 1369.1 124.8 1377.9 115.5 L1389.0 108.8 Z" fill="#a7b46f" stroke="#323621" stroke-width="1.2" stroke-opacity="0.8"/>
<ellipse cx="1355.6" cy="125.8" rx="10.4" ry="4.0" fill="#bac48e" fill-opacity="0.4" transform="rotate(151 1355.6 125.8)"/>
<line x1="1388.5" y1="107.9" x2="1348.3" y2="129.8" stroke="#7d8753" stroke-width="0.7" stroke-opacity="0.5"/>
<path d="M1395.7 101.1 L1396.6 112.2 C1393.9 123.0 1391.2 127.5 1391.8 133.7 C1392.7 140.6 1396.9 145.6 1402.3 145.2 C1407.6 144.3 1410.5 138.4 1409.6 131.5 C1408.7 125.3 1405.0 121.6 1399.8 111.8 L1397.8 100.8 Z" fill="#4c9953" stroke="#162d18" stroke-width="1.2" stroke-opacity="0.8"/>
<ellipse cx="1400.8" cy="132.8" rx="8.9" ry="4.0" fill="#73af78" fill-opacity="0.4" transform="rotate(83 1400.8 132.8)"/>
<line x1="1396.8" y1="101.0" x2="1401.6" y2="139.9" stroke="#39723e" stroke-width="0.7" stroke-opacity="0.5"/>
<path d="M1490.2 95.8 L1474.1 91.1 C1460.0 83.4 1454.8 78.7 1445.7 76.2 C1435.6 73.6 1426.7 75.1 1425.0 80.2 C1424.0 85.5 1431.1 91.0 1441.3 93.7 C1450.4 95.8 1457.2 94.2 1473.3 94.2 L1489.7 97.9 Z" fill="#92b468" stroke="#2b361f" stroke-width="1.2" stroke-opacity="0.8"/>
<ellipse cx="1443.2" cy="84.9" rx="13.4" ry="4.0" fill="#a9c489" fill-opacity="0.4" transform="rotate(-166 1443.2 84.9)"/>
<line x1="1490.0" y1="96.8" x2="1432.8" y2="82.2" stroke="#6d874e" stroke-width="0.7" stroke-opacity="0.5"/>
<path d="M1490.7 91.6 L1476.6 81.0 C1465.9 67.7 1462.7 60.7 1454.7 54.9 C1445.6 48.6 1436.0 47.3 1431.9 52.6 C1428.4 58.2 1433.1 66.8 1442.2 73.1 C1450.4 78.5 1458.1 79.0 1474.3 84.3 L1489.2 93.8 Z" fill="#5aa053" stroke="#1b3018" stroke-width="1.2" stroke-opacity="0.8"/>
<ellipse cx="1448.2" cy="63.8" rx="14.1" ry="4.9" fill="#7eb478" fill-opacity="0.4" transform="rotate(-145 1448.2 63.8)"/>
<line x1="1490.0" y1="92.7" x2="1438.9" y2="57.4" stroke="#43783e" stroke-width="0.7" stroke-opacity="0.5"/>
<path d="M1488.5 101.1 L1472.9 101.5 C1458.2 97.9 1452.1 94.6 1443.4 95.0 C1433.7 95.6 1426.3 100.3 1426.4 106.5 C1427.1 112.7 1435.1 116.3 1444.8 115.6 C1453.5 114.9 1459.0 110.8 1473.2 105.2 L1488.7 103.6 Z" fill="#53a04c" stroke="#183016" stroke-width="1.2" stroke-opacity="0.8"/>
<ellipse cx="1443.8" cy="105.3" rx="12.5" ry="4.6" fill="#78b473" fill-opacity="0.4" transform="rotate(176 1443.8 105.3)"/>
<line x1="1488.6" y1="102.3" x2="1433.8" y2="106.0" stroke="#3e7839" stroke-width="0.7" stroke-opacity="0.5"/>
<path d="M1506.3 90.6 L1514.2 78.8 C1525.1 70.1 1531.2 67.6 1535.4 61.0 C1540.0 53.4 1539.8 45.2 1534.2 41.5 C1528.4 38.3 1521.0 42.0 1516.5 49.6 C1512.6 56.5 1513.3 63.0 1510.7 76.8 L1504.0 89.2 Z" fill="#76ae5a" stroke="#23341b" stroke-width="1.2" stroke-opacity="0.8"/>
<ellipse cx="1526.1" cy="55.1" rx="11.3" ry="4.9" fill="#94bf7e" fill-opacity="0.4" transform="rotate(-59 1526.1 55.1)"/>
<line x1="1505.2" y1="89.9" x2="1530.7" y2="47.3" stroke="#588243" stroke-width="0.7" stroke-opacity="0.5"/>
<path d="M1508.1 101.0 L1524.3 99.9 C1539.8 103.5 1546.2 107.0 1555.2 106.3 C1565.3 105.2 1572.7 99.7 1572.2 92.7 C1571.2 85.7 1562.7 81.9 1552.7 82.9 C1543.7 84.1 1538.2 89.0 1523.8 95.7 L1507.8 98.2 Z" fill="#84ae68" stroke="#27341f" stroke-width="1.2" stroke-opacity="0.8"/>
<ellipse cx="1554.2" cy="94.6" rx="12.9" ry="5.2" fill="#9fbf89" fill-opacity="0.4" transform="rotate(-6 1554.2 94.6)"/>
<line x1="1508.0" y1="99.6" x2="1564.5" y2="93.5" stroke="#63824e" stroke-width="0.7" stroke-opacity="0.5"/>
<path d="M1502.1 106.0 L1513.4 111.2 C1522.8 118.9 1526.0 123.4 1532.4 126.1 C1539.7 129.1 1546.6 128.3 1548.7 123.8 C1550.4 119.1 1545.9 113.7 1538.6 110.8 C1532.1 108.3 1526.7 109.3 1514.6 108.4 L1502.8 104.2 Z" fill="#458b4c" stroke="#142916" stroke-width="1.2" stroke-opacity="0.8"/>
<ellipse cx="1535.8" cy="118.5" rx="10.0" ry="3.6" fill="#6da473" fill-opacity="0.4" transform="rotate(22 1535.8 118.5)"/>
<line x1="1502.4" y1="105.1" x2="1543.2" y2="121.5" stroke="#336839" stroke-width="0.7" stroke-opacity="0.5"/>
<path d="M1507.6 110.1 L1522.2 117.4 C1534.6 126.9 1539.0 131.9 1547.3 135.9 C1556.6 140.2 1565.2 140.9 1567.4 136.9 C1569.0 132.6 1563.0 126.5 1553.7 122.1 C1545.3 118.4 1538.6 118.3 1523.4 114.9 L1508.3 108.4 Z" fill="#a78b84" stroke="#322927" stroke-width="1.2" stroke-opacity="0.8"/>
<ellipse cx="1550.8" cy="129.2" rx="13.1" ry="3.3" fill="#baa49f" fill-opacity="0.4" transform="rotate(25 1550.8 129.2)"/>
<line x1="1508.0" y1="109.2" x2="1560.3" y2="133.6" stroke="#7d6863" stroke-width="0.7" stroke-opacity="0.5"/>
<path d="M1499.0 62.0 L1494.8 51.1 C1493.2 40.1 1493.6 35.2 1491.2 29.2 C1488.3 22.5 1483.8 18.2 1480.3 19.4 C1476.9 21.0 1476.9 27.3 1479.7 34.0 C1482.3 39.9 1486.0 43.1 1492.7 52.0 L1497.6 62.5 Z" fill="#92a07d" stroke="#2b3025" stroke-width="1.2" stroke-opacity="0.8"/>
<ellipse cx="1485.3" cy="31.4" rx="9.3" ry="2.7" fill="#a9b499" fill-opacity="0.4" transform="rotate(-113 1485.3 31.4)"/>
<line x1="1498.3" y1="62.2" x2="1482.5" y2="24.5" stroke="#6d785d" stroke-width="0.7" stroke-opacity="0.5"/>
<path d="M1496.8 107.9 L1496.4 123.4 C1491.2 137.9 1486.9 143.7 1486.8 152.3 C1487.0 162.0 1492.2 169.5 1499.7 169.7 C1507.1 169.2 1511.9 161.5 1511.7 151.8 C1511.3 143.2 1506.7 137.5 1500.9 123.3 L1499.8 107.8 Z" fill="#50994c" stroke="#182d16" stroke-width="1.2" stroke-opacity="0.8"/>
<ellipse cx="1499.3" cy="152.4" rx="12.4" ry="5.5" fill="#76af73" fill-opacity="0.4" transform="rotate(89 1499.3 152.4)"/>
<line x1="1498.3" y1="107.9" x2="1499.5" y2="162.2" stroke="#3c7239" stroke-width="0.7" stroke-opacity="0.5"/>
<path d="M1377.4 162.9 L1361.6 162.9 C1346.8 159.0 1340.8 155.6 1332.0 155.7 C1322.1 156.2 1314.6 160.7 1314.5 166.9 C1315.1 173.1 1323.0 176.9 1332.9 176.5 C1341.7 175.9 1347.4 171.9 1361.8 166.7 L1377.5 165.4 Z" fill="#aebb76" stroke="#343823" stroke-width="1.2" stroke-opacity="0.8"/>
<ellipse cx="1332.1" cy="166.1" rx="12.6" ry="4.6" fill="#bfc994" fill-opacity="0.4" transform="rotate(177 1332.1 166.1)"/>
<line x1="1377.4" y1="164.1" x2="1322.1" y2="166.6" stroke="#828c58" stroke-width="0.7" stroke-opacity="0.5"/>
<path d="M1379.7 171.4 L1368.9 176.1 C1357.3 177.2 1351.9 176.1 1345.9 178.9 C1339.3 182.1 1335.8 188.0 1338.0 193.2 C1340.7 198.1 1347.5 198.9 1354.2 195.6 C1360.0 192.6 1362.4 187.6 1370.4 179.1 L1380.7 173.4 Z" fill="#53994c" stroke="#182d16" stroke-width="1.2" stroke-opacity="0.8"/>
<ellipse cx="1349.8" cy="187.3" rx="9.4" ry="4.1" fill="#78af73" fill-opacity="0.4" transform="rotate(154 1349.8 187.3)"/>
<line x1="1380.2" y1="172.4" x2="1343.1" y2="190.7" stroke="#3e7239" stroke-width="0.7" stroke-opacity="0.5"/>
<path d="M1382.0 160.5 L1373.4 155.5 C1366.8 148.2 1364.8 144.0 1359.9 141.3 C1354.4 138.4 1348.6 138.8 1346.3 142.7 C1344.4 146.8 1347.3 151.8 1352.8 154.7 C1357.8 157.2 1362.4 156.5 1372.1 157.9 L1381.1 162.2 Z" fill="#4c924c" stroke="#162b16" stroke-width="1.2" stroke-opacity="0.8"/>
<ellipse cx="1356.2" cy="147.9" rx="8.0" ry="3.3" fill="#73a973" fill-opacity="0.4" transform="rotate(-152 1356.2 147.9)"/>
<line x1="1381.6" y1="161.4" x2="1350.5" y2="144.9" stroke="#396d39" stroke-width="0.7" stroke-opacity="0.5"/>
<path d="M1389.0 171.1 L1400.6 179.4 C1408.7 191.6 1410.5 198.6 1417.1 203.1 C1424.7 207.9 1433.6 206.9 1438.3 200.1 C1442.4 192.9 1439.4 184.5 1431.8 179.7 C1424.9 175.7 1417.8 177.1 1403.3 175.1 L1390.7 168.2 Z" fill="#68ae4c" stroke="#1f3416" stroke-width="1.2" stroke-opacity="0.8"/>
<ellipse cx="1424.7" cy="191.6" rx="11.4" ry="6.1" fill="#89bf73" fill-opacity="0.4" transform="rotate(32 1424.7 191.6)"/>
<line x1="1389.9" y1="169.7" x2="1432.4" y2="196.4" stroke="#4e8239" stroke-width="0.7" stroke-opacity="0.5"/>
<path d="M1381.7 183.5 L1381.4 198.2 C1377.2 212.0 1373.6 217.5 1373.6 225.7 C1373.8 234.9 1378.1 242.1 1384.3 242.2 C1390.5 241.8 1394.5 234.5 1394.3 225.2 C1393.9 217.1 1390.0 211.7 1385.2 198.1 L1384.2 183.4 Z" fill="#76ae53" stroke="#233418" stroke-width="1.2" stroke-opacity="0.8"/>
<ellipse cx="1383.9" cy="225.8" rx="11.8" ry="4.6" fill="#94bf78" fill-opacity="0.4" transform="rotate(89 1383.9 225.8)"/>
<line x1="1383.0" y1="183.5" x2="1384.2" y2="235.2" stroke="#58823e" stroke-width="0.7" stroke-opacity="0.5"/>
<path d="M1400.9 190.7 L1403.2 204.5 C1400.9 218.3 1397.8 224.2 1399.2 231.9 C1401.1 240.5 1407.1 246.2 1414.1 245.0 C1420.9 243.2 1424.0 235.5 1422.2 227.0 C1420.3 219.4 1415.1 215.2 1407.3 203.6 L1403.7 190.1 Z" fill="#92a061" stroke="#2b301d" stroke-width="1.2" stroke-opacity="0.8"/>
<ellipse cx="1410.8" cy="229.7" rx="11.2" ry="5.2" fill="#a9b483" fill-opacity="0.4" transform="rotate(78 1410.8 229.7)"/>
<line x1="1402.3" y1="190.4" x2="1412.7" y2="238.4" stroke="#6d7848" stroke-width="0.7" stroke-opacity="0.5"/>
<path d="M1473.2 173.4 L1470.7 164.2 C1472.1 154.4 1474.4 149.8 1472.9 144.7 C1471.0 139.1 1465.5 136.0 1459.6 137.9 C1453.7 140.1 1451.4 145.9 1453.3 151.5 C1455.2 156.4 1459.9 158.6 1467.1 165.4 L1470.8 174.2 Z" fill="#68a045" stroke="#1f3014" stroke-width="1.2" stroke-opacity="0.8"/>
<ellipse cx="1463.0" cy="147.9" rx="7.6" ry="4.6" fill="#89b46d" fill-opacity="0.4" transform="rotate(-109 1463.0 147.9)"/>
<line x1="1472.0" y1="173.8" x2="1461.1" y2="142.2" stroke="#4e7833" stroke-width="0.7" stroke-opacity="0.5"/>
<path d="M1484.3 177.6 L1496.1 180.2 C1506.5 186.1 1510.4 190.0 1517.0 191.3 C1524.5 192.6 1531.0 190.1 1532.1 184.9 C1532.8 179.5 1527.6 174.9 1520.1 173.6 C1513.4 172.7 1508.4 175.1 1496.7 177.0 L1484.6 175.5 Z" fill="#4c994c" stroke="#162d16" stroke-width="1.2" stroke-opacity="0.8"/>
<ellipse cx="1518.8" cy="182.5" rx="9.7" ry="4.0" fill="#73af73" fill-opacity="0.4" transform="rotate(10 1518.8 182.5)"/>
<line x1="1484.4" y1="176.6" x2="1526.4" y2="183.9" stroke="#397239" stroke-width="0.7" stroke-opacity="0.5"/>
<path d="M1486.2 188.9 L1497.8 199.2 C1505.2 213.0 1506.6 220.5 1513.2 226.1 C1520.8 232.2 1530.2 232.6 1535.6 226.3 C1540.5 219.7 1538.0 210.6 1530.4 204.5 C1523.5 199.3 1515.9 199.6 1500.9 195.4 L1488.3 186.3 Z" fill="#76a05a" stroke="#23301b" stroke-width="1.2" stroke-opacity="0.8"/>
<ellipse cx="1522.1" cy="215.5" rx="12.4" ry="6.1" fill="#94b47e" fill-opacity="0.4" transform="rotate(39 1522.1 215.5)"/>
<line x1="1487.2" y1="187.6" x2="1529.8" y2="221.7" stroke="#587843" stroke-width="0.7" stroke-opacity="0.5"/>
<path d="M1477.8 183.7 L1479.4 196.9 C1477.3 209.8 1474.7 215.3 1475.8 222.7 C1477.2 230.9 1482.1 236.7 1487.9 236.0 C1493.6 234.8 1496.3 227.6 1494.9 219.4 C1493.4 212.1 1489.2 207.8 1482.9 196.3 L1480.1 183.3 Z" fill="#4c9945" stroke="#162d14" stroke-width="1.2" stroke-opacity="0.8"/>
<ellipse cx="1485.4" cy="221.3" rx="10.7" ry="4.3" fill="#73af6d" fill-opacity="0.4" transform="rotate(80 1485.4 221.3)"/>
<line x1="1478.9" y1="183.5" x2="1486.8" y2="229.7" stroke="#397233" stroke-width="0.7" stroke-opacity="0.5"/>
<path d="M1472.9 181.3 L1464.5 186.3 C1455.1 188.5 1450.6 188.2 1446.0 191.1 C1440.9 194.4 1438.5 199.6 1440.9 203.5 C1443.6 207.2 1449.3 207.1 1454.3 203.8 C1458.8 200.6 1460.3 196.4 1466.0 188.6 L1473.9 182.9 Z" fill="#45924c" stroke="#142b16" stroke-width="1.2" stroke-opacity="0.8"/>
<ellipse cx="1450.0" cy="197.5" rx="7.8" ry="3.3" fill="#6da973" fill-opacity="0.4" transform="rotate(147 1450.0 197.5)"/>
<line x1="1473.4" y1="182.1" x2="1444.8" y2="201.0" stroke="#336d39" stroke-width="0.7" stroke-opacity="0.5"/>
<path d="M1390.6 86.3 L1387.5 82.9 C1382.5 72.9 1381.5 67.8 1377.0 63.4 C1371.8 58.7 1365.3 57.7 1361.5 61.6 C1358.1 65.7 1359.8 72.1 1365.0 76.8 C1369.7 80.8 1375.0 81.2 1385.4 85.3 L1389.1 87.9 Z" fill="#478944" stroke="#0e1b0d" stroke-width="1.5" stroke-opacity="0.85"/>
<ellipse cx="1369.5" cy="68.7" rx="7.6" ry="4.0" fill="#6fa26d" fill-opacity="0.4" transform="rotate(-138 1369.5 68.7)"/>
<line x1="1389.9" y1="87.1" x2="1364.9" y2="64.6" stroke="#356633" stroke-width="0.7" stroke-opacity="0.5"/>
<path d="M1391.4 90.5 L1387.9 89.7 C1380.4 85.8 1377.5 83.2 1372.8 82.4 C1367.5 81.6 1362.9 83.5 1362.2 87.1 C1361.8 90.8 1365.7 93.9 1371.0 94.7 C1375.8 95.2 1379.3 93.5 1387.6 91.9 L1391.1 92.0 Z" fill="#2e6b4a" stroke="#09150e" stroke-width="1.5" stroke-opacity="0.85"/>
<ellipse cx="1370.3" cy="88.3" rx="5.9" ry="2.7" fill="#5b8b71" fill-opacity="0.4" transform="rotate(-172 1370.3 88.3)"/>
<line x1="1391.2" y1="91.3" x2="1365.7" y2="87.6" stroke="#225037" stroke-width="0.7" stroke-opacity="0.5"/>
<path d="M1397.5 87.2 L1398.5 83.5 C1402.5 75.3 1405.2 72.2 1406.2 67.0 C1407.3 61.1 1405.8 56.1 1402.3 55.3 C1398.8 54.9 1395.7 59.1 1394.7 65.0 C1393.9 70.2 1395.4 74.0 1396.4 83.1 L1396.1 87.0 Z" fill="#317051" stroke="#091610" stroke-width="1.5" stroke-opacity="0.85"/>
<ellipse cx="1400.8" cy="64.2" rx="6.5" ry="2.6" fill="#5e8f77" fill-opacity="0.4" transform="rotate(-80 1400.8 64.2)"/>
<line x1="1396.8" y1="87.1" x2="1401.6" y2="59.1" stroke="#24543c" stroke-width="0.7" stroke-opacity="0.5"/>
<path d="M1400.1 90.3 L1402.3 88.3 C1408.6 84.9 1411.9 84.3 1414.6 81.3 C1417.5 77.8 1418.0 73.6 1415.4 71.2 C1412.7 69.0 1408.6 70.2 1405.7 73.7 C1403.1 76.8 1403.0 80.2 1400.6 87.0 L1399.0 89.4 Z" fill="#316b4e" stroke="#09150f" stroke-width="1.5" stroke-opacity="0.85"/>
<ellipse cx="1411.0" cy="76.5" rx="4.9" ry="2.6" fill="#5e8b74" fill-opacity="0.4" transform="rotate(-50 1411.0 76.5)"/>
<line x1="1399.5" y1="89.9" x2="1413.5" y2="73.5" stroke="#24503a" stroke-width="0.7" stroke-opacity="0.5"/>
<path d="M1399.7 93.5 L1404.0 93.3 C1414.2 95.0 1418.5 96.9 1424.4 96.3 C1431.0 95.4 1435.9 92.0 1435.5 87.8 C1434.8 83.7 1429.2 81.7 1422.5 82.6 C1416.7 83.5 1413.1 86.5 1403.7 90.8 L1399.4 91.8 Z" fill="#448944" stroke="#0d1b0d" stroke-width="1.5" stroke-opacity="0.85"/>
<ellipse cx="1425.4" cy="89.2" rx="7.3" ry="3.0" fill="#6da26d" fill-opacity="0.4" transform="rotate(-8 1425.4 89.2)"/>
<line x1="1399.5" y1="92.7" x2="1431.2" y2="88.4" stroke="#336633" stroke-width="0.7" stroke-opacity="0.5"/>
<path d="M1399.0 97.2 L1400.6 99.9 C1402.9 106.9 1403.0 110.4 1405.5 113.8 C1408.4 117.5 1412.6 118.9 1415.4 116.9 C1418.1 114.6 1417.7 110.2 1414.7 106.5 C1412.0 103.3 1408.6 102.4 1402.3 98.6 L1400.1 96.4 Z" fill="#2e6b4a" stroke="#09150e" stroke-width="1.5" stroke-opacity="0.85"/>
<ellipse cx="1411.0" cy="111.2" rx="5.1" ry="2.6" fill="#5b8b71" fill-opacity="0.4" transform="rotate(52 1411.0 111.2)"/>
<line x1="1399.5" y1="96.8" x2="1413.5" y2="114.4" stroke="#225037" stroke-width="0.7" stroke-opacity="0.5"/>
<path d="M1392.1 97.6 L1388.8 100.1 C1380.0 104.3 1375.7 105.1 1371.5 108.7 C1366.8 112.9 1364.7 118.1 1367.1 121.0 C1369.7 123.7 1375.0 122.2 1379.7 118.0 C1383.9 114.2 1385.2 110.0 1390.3 101.8 L1393.1 98.7 Z" fill="#31704a" stroke="#09160e" stroke-width="1.5" stroke-opacity="0.85"/>
<ellipse cx="1374.2" cy="114.6" rx="6.9" ry="2.7" fill="#5e8f71" fill-opacity="0.4" transform="rotate(138 1374.2 114.6)"/>
<line x1="1392.6" y1="98.2" x2="1370.1" y2="118.3" stroke="#245437" stroke-width="0.7" stroke-opacity="0.5"/>
<path d="M1393.3 100.7 L1391.6 105.3 C1386.0 115.1 1382.6 118.7 1380.7 125.0 C1378.6 132.1 1379.4 138.4 1383.0 139.7 C1386.6 140.5 1390.6 135.5 1392.6 128.4 C1394.3 122.1 1393.4 117.2 1393.8 105.9 L1394.7 101.2 Z" fill="#317051" stroke="#091610" stroke-width="1.5" stroke-opacity="0.85"/>
<ellipse cx="1386.1" cy="128.8" rx="8.1" ry="2.7" fill="#5e8f77" fill-opacity="0.4" transform="rotate(106 1386.1 128.8)"/>
<line x1="1394.0" y1="101.0" x2="1384.3" y2="135.0" stroke="#24543c" stroke-width="0.7" stroke-opacity="0.5"/>
<path d="M1491.6 96.0 L1486.8 94.4 C1476.4 88.6 1472.6 85.0 1465.9 83.2 C1458.4 81.3 1451.8 82.5 1450.6 86.4 C1449.8 90.5 1455.0 94.7 1462.5 96.6 C1469.2 98.2 1474.3 96.9 1486.2 96.8 L1491.2 97.6 Z" fill="#2e6b47" stroke="#09150e" stroke-width="1.5" stroke-opacity="0.85"/>
<ellipse cx="1462.0" cy="89.3" rx="8.4" ry="3.0" fill="#5b8b6f" fill-opacity="0.4" transform="rotate(-166 1462.0 89.3)"/>
<line x1="1491.4" y1="96.8" x2="1455.5" y2="87.7" stroke="#225035" stroke-width="0.7" stroke-opacity="0.5"/>
<path d="M1494.9 92.5 L1494.1 86.7 C1494.2 73.3 1495.5 67.6 1494.0 59.9 C1492.1 51.2 1487.9 45.0 1483.8 45.7 C1479.8 46.8 1478.6 54.2 1480.5 62.9 C1482.3 70.5 1485.9 75.1 1491.7 87.3 L1493.3 92.8 Z" fill="#3b784a" stroke="#0b170e" stroke-width="1.5" stroke-opacity="0.85"/>
<ellipse cx="1486.7" cy="58.8" rx="9.6" ry="3.0" fill="#669571" fill-opacity="0.4" transform="rotate(-102 1486.7 58.8)"/>
<line x1="1494.1" y1="92.7" x2="1485.0" y2="51.3" stroke="#2c5a37" stroke-width="0.7" stroke-opacity="0.5"/>
<path d="M1497.7 95.6 L1498.9 91.2 C1503.6 81.7 1506.7 78.2 1507.8 72.2 C1509.0 65.5 1507.2 59.7 1503.1 58.8 C1499.0 58.3 1495.4 63.1 1494.2 69.9 C1493.3 75.9 1495.1 80.3 1496.4 90.8 L1496.1 95.3 Z" fill="#316b4e" stroke="#09150f" stroke-width="1.5" stroke-opacity="0.85"/>
<ellipse cx="1501.4" cy="69.0" rx="7.4" ry="3.0" fill="#5e8b74" fill-opacity="0.4" transform="rotate(-80 1501.4 69.0)"/>
<line x1="1496.9" y1="95.4" x2="1502.4" y2="63.2" stroke="#24503a" stroke-width="0.7" stroke-opacity="0.5"/>
<path d="M1501.3 99.0 L1506.4 97.7 C1518.7 96.8 1524.0 97.7 1530.8 95.5 C1538.5 93.0 1543.6 88.4 1542.5 84.4 C1541.0 80.5 1534.1 79.9 1526.5 82.4 C1519.7 84.8 1516.0 88.7 1505.6 95.3 L1500.8 97.4 Z" fill="#2e6b47" stroke="#09150e" stroke-width="1.5" stroke-opacity="0.85"/>
<ellipse cx="1530.9" cy="88.2" rx="8.7" ry="3.0" fill="#5b8b6f" fill-opacity="0.4" transform="rotate(-18 1530.9 88.2)"/>
<line x1="1501.0" y1="98.2" x2="1537.5" y2="86.0" stroke="#225035" stroke-width="0.7" stroke-opacity="0.5"/>
<path d="M1498.9 106.9 L1500.4 110.2 C1501.9 118.7 1501.5 122.8 1503.8 127.0 C1506.6 131.7 1511.2 134.1 1514.9 132.1 C1518.4 129.8 1518.5 124.7 1515.7 120.0 C1513.1 115.9 1509.3 114.3 1502.6 108.9 L1500.4 106.1 Z" fill="#31704a" stroke="#09160e" stroke-width="1.5" stroke-opacity="0.85"/>
<ellipse cx="1510.6" cy="124.9" rx="6.0" ry="3.0" fill="#5e8f71" fill-opacity="0.4" transform="rotate(59 1510.6 124.9)"/>
<line x1="1499.7" y1="106.5" x2="1513.0" y2="129.0" stroke="#245437" stroke-width="0.7" stroke-opacity="0.5"/>
<path d="M1490.4 106.1 L1488.3 110.3 C1481.1 118.8 1476.8 121.6 1474.4 127.4 C1471.9 134.0 1473.0 140.5 1477.5 142.4 C1482.3 144.0 1487.4 140.0 1489.9 133.4 C1492.0 127.4 1490.7 122.4 1491.1 111.3 L1492.3 106.8 Z" fill="#31704a" stroke="#09160e" stroke-width="1.5" stroke-opacity="0.85"/>
<ellipse cx="1481.4" cy="132.4" rx="7.7" ry="3.6" fill="#5e8f71" fill-opacity="0.4" transform="rotate(111 1481.4 132.4)"/>
<line x1="1491.4" y1="106.5" x2="1479.2" y2="138.1" stroke="#245437" stroke-width="0.7" stroke-opacity="0.5"/>
<path d="M1491.1 100.3 L1488.0 100.9 C1480.4 100.8 1477.1 99.7 1472.9 100.9 C1468.4 102.4 1465.5 105.9 1466.5 109.2 C1467.7 112.6 1472.1 113.6 1476.7 112.0 C1480.7 110.6 1482.7 107.7 1488.7 103.0 L1491.6 101.6 Z" fill="#31705f" stroke="#091612" stroke-width="1.5" stroke-opacity="0.85"/>
<ellipse cx="1473.4" cy="106.9" rx="5.2" ry="2.6" fill="#5e8f82" fill-opacity="0.4" transform="rotate(162 1473.4 106.9)"/>
<line x1="1491.4" y1="101.0" x2="1469.5" y2="108.3" stroke="#245447" stroke-width="0.7" stroke-opacity="0.5"/>
<path d="M1391.4 164.8 L1395.9 164.0 C1406.4 164.0 1410.9 165.2 1416.8 163.7 C1423.4 161.9 1428.0 158.1 1427.2 154.4 C1426.0 150.9 1420.2 149.9 1413.6 151.7 C1407.7 153.4 1404.4 156.6 1395.3 161.9 L1391.1 163.4 Z" fill="#387657" stroke="#0b1711" stroke-width="1.5" stroke-opacity="0.85"/>
<ellipse cx="1417.1" cy="157.2" rx="7.4" ry="2.7" fill="#63947b" fill-opacity="0.4" transform="rotate(-15 1417.1 157.2)"/>
<line x1="1391.2" y1="164.1" x2="1422.9" y2="155.6" stroke="#2a5841" stroke-width="0.7" stroke-opacity="0.5"/>
<path d="M1389.3 171.6 L1391.1 173.9 C1393.8 180.7 1394.0 184.3 1396.7 187.2 C1399.9 190.4 1404.3 191.0 1407.1 188.3 C1409.8 185.4 1409.2 181.1 1406.0 177.9 C1403.1 175.2 1399.5 174.9 1392.8 172.3 L1390.4 170.5 Z" fill="#2e6b4e" stroke="#09150f" stroke-width="1.5" stroke-opacity="0.85"/>
<ellipse cx="1402.3" cy="183.5" rx="4.9" ry="2.9" fill="#5b8b74" fill-opacity="0.4" transform="rotate(45 1402.3 183.5)"/>
<line x1="1389.9" y1="171.0" x2="1405.1" y2="186.2" stroke="#22503a" stroke-width="0.7" stroke-opacity="0.5"/>
<path d="M1381.0 173.3 L1378.5 175.8 C1371.3 180.3 1367.5 181.4 1364.3 185.0 C1360.9 189.2 1360.1 194.1 1362.9 196.6 C1365.9 198.9 1370.5 197.1 1374.0 192.9 C1376.9 189.1 1377.2 185.2 1380.2 177.2 L1382.1 174.3 Z" fill="#2e6b4e" stroke="#09150f" stroke-width="1.5" stroke-opacity="0.85"/>
<ellipse cx="1368.1" cy="190.2" rx="5.9" ry="2.7" fill="#5b8b74" fill-opacity="0.4" transform="rotate(129 1368.1 190.2)"/>
<line x1="1381.6" y1="173.8" x2="1365.1" y2="193.9" stroke="#22503a" stroke-width="0.7" stroke-opacity="0.5"/>
<path d="M1386.2 175.3 L1386.4 179.9 C1384.5 190.7 1382.5 195.2 1383.1 201.4 C1384.0 208.4 1387.6 213.6 1391.9 213.2 C1396.2 212.5 1398.4 206.6 1397.5 199.6 C1396.6 193.4 1393.5 189.5 1389.0 179.6 L1388.0 175.1 Z" fill="#3e8344" stroke="#0c1a0d" stroke-width="1.5" stroke-opacity="0.85"/>
<ellipse cx="1390.6" cy="202.6" rx="7.7" ry="3.2" fill="#689e6d" fill-opacity="0.4" transform="rotate(83 1390.6 202.6)"/>
<line x1="1387.1" y1="175.2" x2="1391.4" y2="208.6" stroke="#2e6233" stroke-width="0.7" stroke-opacity="0.5"/>
<path d="M1385.2 161.2 L1385.1 158.5 C1386.9 151.9 1388.9 149.0 1388.4 145.4 C1387.6 141.3 1384.3 138.6 1380.2 139.2 C1376.1 140.1 1374.0 143.8 1374.8 147.9 C1375.6 151.5 1378.5 153.5 1382.6 158.9 L1383.5 161.5 Z" fill="#2d6651" stroke="#081410" stroke-width="1.5" stroke-opacity="0.85"/>
<ellipse cx="1381.3" cy="145.4" rx="4.5" ry="3.0" fill="#5b8777" fill-opacity="0.4" transform="rotate(-101 1381.3 145.4)"/>
<line x1="1384.3" y1="161.4" x2="1380.7" y2="141.9" stroke="#214c3c" stroke-width="0.7" stroke-opacity="0.5"/>
<path d="M1380.1 164.8 L1377.0 164.9 C1369.8 163.3 1366.7 161.6 1362.6 162.1 C1358.0 162.9 1354.8 165.9 1355.3 169.7 C1356.0 173.3 1360.1 175.2 1364.6 174.4 C1368.7 173.6 1371.0 170.9 1377.4 167.1 L1380.3 166.2 Z" fill="#2e6b4e" stroke="#09150f" stroke-width="1.5" stroke-opacity="0.85"/>
<ellipse cx="1362.3" cy="168.5" rx="5.0" ry="2.7" fill="#5b8b74" fill-opacity="0.4" transform="rotate(171 1362.3 168.5)"/>
<line x1="1380.2" y1="165.5" x2="1358.3" y2="169.2" stroke="#22503a" stroke-width="0.7" stroke-opacity="0.5"/>
<path d="M1476.9 172.3 L1476.9 169.3 C1478.9 162.2 1480.8 159.3 1480.5 155.2 C1480.0 150.6 1477.1 147.2 1473.4 147.5 C1469.7 148.1 1467.6 152.0 1468.1 156.5 C1468.7 160.6 1471.2 163.1 1474.7 169.6 L1475.4 172.5 Z" fill="#317051" stroke="#091610" stroke-width="1.5" stroke-opacity="0.85"/>
<ellipse cx="1474.2" cy="154.5" rx="5.0" ry="2.7" fill="#5e8f77" fill-opacity="0.4" transform="rotate(-96 1474.2 154.5)"/>
<line x1="1476.2" y1="172.4" x2="1473.7" y2="150.5" stroke="#24543c" stroke-width="0.7" stroke-opacity="0.5"/>
<path d="M1480.3 175.8 L1483.0 176.1 C1489.0 178.4 1491.4 180.3 1495.0 180.4 C1499.1 180.4 1502.3 178.3 1502.4 175.2 C1502.3 172.1 1499.1 170.0 1495.0 170.0 C1491.4 170.1 1489.0 172.0 1483.0 174.2 L1480.3 174.6 Z" fill="#317651" stroke="#091710" stroke-width="1.5" stroke-opacity="0.85"/>
<ellipse cx="1496.2" cy="175.2" rx="4.4" ry="2.3" fill="#5e9477" fill-opacity="0.4" transform="rotate(0 1496.2 175.2)"/>
<line x1="1480.3" y1="175.2" x2="1499.8" y2="175.2" stroke="#24583c" stroke-width="0.7" stroke-opacity="0.5"/>
<path d="M1481.1 181.3 L1483.8 184.3 C1488.6 192.6 1489.7 196.9 1493.7 200.6 C1498.2 204.7 1503.7 205.8 1506.6 202.8 C1509.2 199.6 1507.4 194.3 1502.8 190.3 C1498.7 186.8 1494.3 186.2 1485.5 182.4 L1482.2 180.1 Z" fill="#31704a" stroke="#09160e" stroke-width="1.5" stroke-opacity="0.85"/>
<ellipse cx="1499.6" cy="196.6" rx="6.7" ry="3.0" fill="#5e8f71" fill-opacity="0.4" transform="rotate(42 1499.6 196.6)"/>
<line x1="1481.7" y1="180.7" x2="1503.6" y2="200.2" stroke="#245437" stroke-width="0.7" stroke-opacity="0.5"/>
<path d="M1475.4 180.6 L1474.6 183.2 C1470.7 188.7 1468.1 190.7 1467.3 194.3 C1466.5 198.4 1468.4 202.0 1472.0 202.8 C1475.7 203.4 1478.7 200.7 1479.5 196.6 C1480.1 192.9 1478.3 190.1 1476.8 183.6 L1476.9 180.8 Z" fill="#316b4e" stroke="#09150f" stroke-width="1.5" stroke-opacity="0.85"/>
<ellipse cx="1473.2" cy="196.6" rx="4.5" ry="2.7" fill="#5e8b74" fill-opacity="0.4" transform="rotate(101 1473.2 196.6)"/>
<line x1="1476.2" y1="180.7" x2="1472.5" y2="200.2" stroke="#24503a" stroke-width="0.7" stroke-opacity="0.5"/>
<path d="M1473.6 173.1 L1469.5 171.6 C1460.8 166.5 1457.6 163.4 1452.0 161.7 C1445.6 159.9 1439.9 160.8 1438.8 164.1 C1438.0 167.6 1442.4 171.2 1448.8 173.0 C1454.5 174.5 1458.8 173.5 1469.0 173.7 L1473.2 174.5 Z" fill="#2d634a" stroke="#08130e" stroke-width="1.5" stroke-opacity="0.85"/>
<ellipse cx="1448.5" cy="166.8" rx="7.2" ry="2.6" fill="#5b8571" fill-opacity="0.4" transform="rotate(-164 1448.5 166.8)"/>
<line x1="1473.4" y1="173.8" x2="1443.0" y2="165.3" stroke="#214a37" stroke-width="0.7" stroke-opacity="0.5"/>
<ellipse cx="1395.4" cy="92.7" rx="4.1" ry="4.1" fill="#245a4c" transform="rotate(0 1395.4 92.7)"/>
<ellipse cx="1495.5" cy="98.2" rx="4.1" ry="4.1" fill="#245a4c" transform="rotate(0 1495.5 98.2)"/>
<ellipse cx="1385.7" cy="165.5" rx="4.1" ry="4.1" fill="#245a4c" transform="rotate(0 1385.7 165.5)"/>
<ellipse cx="1477.5" cy="175.2" rx="4.1" ry="4.1" fill="#245a4c" transform="rotate(0 1477.5 175.2)"/>
</g></g>
<text x="839.3" y="260.4" font-size="22" fill="#fff" font-family="'Liberation Serif', 'DejaVu Serif', serif" textLength="53.5" lengthAdjust="spacing">Col-0</text>
<text x="1145.6" y="260.4" font-size="22" fill="#fff" font-family="'Liberation Serif', 'DejaVu Serif', serif" textLength="95.5" lengthAdjust="spacing">RNAi 4-8</text>
<text x="1412.7" y="260.4" font-size="22" fill="#fff" font-family="'Liberation Serif', 'DejaVu Serif', serif" textLength="72" lengthAdjust="spacing">OE 4-4</text>
</g>
<g id="panelC">
<text x="0.6" y="470.9" font-size="22" fill="#111" stroke="#111" stroke-width="0.3" text-anchor="start" font-family="'Liberation Sans', 'DejaVu Sans', sans-serif" >C</text>
<rect x="50.6" y="465.4" width="841.8" height="376" fill="#fff" stroke="#222" stroke-width="2.4" rx="1.5"/>
<rect x="196.95" y="739.6" width="65.9" height="35.5" fill="#a6a6a6" stroke="#3c3c3c" stroke-width="2.5" rx="1"/>
<rect x="198.70000000000002" y="741.4" width="62.4" height="32.9" fill="none" stroke="#c0c0c0" stroke-width="0.8" />
<rect x="365.75" y="539.7" width="65.9" height="235.39999999999998" fill="#a6a6a6" stroke="#3c3c3c" stroke-width="2.5" rx="1"/>
<rect x="367.5" y="541.5" width="62.4" height="232.79999999999998" fill="none" stroke="#c0c0c0" stroke-width="0.8" />
<rect x="534.9499999999999" y="545.6" width="65.9" height="229.5" fill="#a6a6a6" stroke="#3c3c3c" stroke-width="2.5" rx="1"/>
<rect x="536.6999999999999" y="547.4" width="62.4" height="226.9" fill="none" stroke="#c0c0c0" stroke-width="0.8" />
<rect x="703.3499999999999" y="713.9" width="65.9" height="61.200000000000045" fill="#a6a6a6" stroke="#3c3c3c" stroke-width="2.5" rx="1"/>
<rect x="705.0999999999999" y="715.6999999999999" width="62.4" height="58.600000000000044" fill="none" stroke="#c0c0c0" stroke-width="0.8" />
<line x1="230.9" y1="732" x2="230.9" y2="747.6" stroke="#111" stroke-width="1.3" />
<line x1="225.6" y1="732" x2="236.20000000000002" y2="732" stroke="#111" stroke-width="1.3" />
<line x1="225.6" y1="747.6" x2="236.20000000000002" y2="747.6" stroke="#111" stroke-width="1.3" />
<line x1="398.8" y1="520.1" x2="398.8" y2="559.1" stroke="#111" stroke-width="1.3" />
<line x1="393.5" y1="520.1" x2="404.1" y2="520.1" stroke="#111" stroke-width="1.3" />
<line x1="393.5" y1="559.1" x2="404.1" y2="559.1" stroke="#111" stroke-width="1.3" />
<line x1="568" y1="536.3" x2="568" y2="554.8" stroke="#111" stroke-width="1.3" />
<line x1="562.7" y1="536.3" x2="573.3" y2="536.3" stroke="#111" stroke-width="1.3" />
<line x1="562.7" y1="554.8" x2="573.3" y2="554.8" stroke="#111" stroke-width="1.3" />
<line x1="735.6" y1="709" x2="735.6" y2="719.6" stroke="#111" stroke-width="1.3" />
<line x1="730.3000000000001" y1="709" x2="740.9" y2="709" stroke="#111" stroke-width="1.3" />
<line x1="730.3000000000001" y1="719.6" x2="740.9" y2="719.6" stroke="#111" stroke-width="1.3" />
<line x1="145.5" y1="495.6" x2="145.5" y2="775.7" stroke="#333" stroke-width="1.3" />
<line x1="144.9" y1="775.1" x2="821.6" y2="775.1" stroke="#333" stroke-width="1.3" />
<text x="132.6" y="780.7" font-size="16" fill="#2a2a2a" stroke="#2a2a2a" stroke-width="0.1" text-anchor="end" font-family="'Liberation Sans', 'DejaVu Sans', sans-serif" >0</text>
<line x1="145.5" y1="740.225" x2="151.0" y2="740.225" stroke="#333" stroke-width="1.2" />
<text x="132.6" y="745.825" font-size="16" fill="#2a2a2a" stroke="#2a2a2a" stroke-width="0.1" text-anchor="end" font-family="'Liberation Sans', 'DejaVu Sans', sans-serif" >1</text>
<line x1="145.5" y1="705.35" x2="151.0" y2="705.35" stroke="#333" stroke-width="1.2" />
<text x="132.6" y="710.95" font-size="16" fill="#2a2a2a" stroke="#2a2a2a" stroke-width="0.1" text-anchor="end" font-family="'Liberation Sans', 'DejaVu Sans', sans-serif" >2</text>
<line x1="145.5" y1="670.475" x2="151.0" y2="670.475" stroke="#333" stroke-width="1.2" />
<text x="132.6" y="676.075" font-size="16" fill="#2a2a2a" stroke="#2a2a2a" stroke-width="0.1" text-anchor="end" font-family="'Liberation Sans', 'DejaVu Sans', sans-serif" >3</text>
<line x1="145.5" y1="635.6" x2="151.0" y2="635.6" stroke="#333" stroke-width="1.2" />
<text x="132.6" y="641.2" font-size="16" fill="#2a2a2a" stroke="#2a2a2a" stroke-width="0.1" text-anchor="end" font-family="'Liberation Sans', 'DejaVu Sans', sans-serif" >4</text>
<line x1="145.5" y1="600.725" x2="151.0" y2="600.725" stroke="#333" stroke-width="1.2" />
<text x="132.6" y="606.325" font-size="16" fill="#2a2a2a" stroke="#2a2a2a" stroke-width="0.1" text-anchor="end" font-family="'Liberation Sans', 'DejaVu Sans', sans-serif" >5</text>
<line x1="145.5" y1="565.85" x2="151.0" y2="565.85" stroke="#333" stroke-width="1.2" />
<text x="132.6" y="571.45" font-size="16" fill="#2a2a2a" stroke="#2a2a2a" stroke-width="0.1" text-anchor="end" font-family="'Liberation Sans', 'DejaVu Sans', sans-serif" >6</text>
<line x1="145.5" y1="530.975" x2="151.0" y2="530.975" stroke="#333" stroke-width="1.2" />
<text x="132.6" y="536.575" font-size="16" fill="#2a2a2a" stroke="#2a2a2a" stroke-width="0.1" text-anchor="end" font-family="'Liberation Sans', 'DejaVu Sans', sans-serif" >7</text>
<line x1="145.5" y1="496.1" x2="151.0" y2="496.1" stroke="#333" stroke-width="1.2" />
<text x="132.6" y="501.70000000000005" font-size="16" fill="#2a2a2a" stroke="#2a2a2a" stroke-width="0.1" text-anchor="end" font-family="'Liberation Sans', 'DejaVu Sans', sans-serif" >8</text>
<line x1="314.4" y1="766.5" x2="314.4" y2="775.1" stroke="#333" stroke-width="1.2" />
<line x1="483.3" y1="766.5" x2="483.3" y2="775.1" stroke="#333" stroke-width="1.2" />
<line x1="652.1" y1="766.5" x2="652.1" y2="775.1" stroke="#333" stroke-width="1.2" />
<line x1="821" y1="766.5" x2="821" y2="775.1" stroke="#333" stroke-width="1.2" />
<text x="228.2" y="812" font-size="25" fill="#333" stroke="#333" stroke-width="0.3" text-anchor="middle" font-family="'Liberation Serif', 'DejaVu Serif', serif" textLength="25.6" lengthAdjust="spacingAndGlyphs" >0h</text>
<text x="397.5" y="812" font-size="25" fill="#333" stroke="#333" stroke-width="0.3" text-anchor="middle" font-family="'Liberation Serif', 'DejaVu Serif', serif" textLength="25.6" lengthAdjust="spacingAndGlyphs" >6h</text>
<text x="565.5" y="812" font-size="25" fill="#333" stroke="#333" stroke-width="0.3" text-anchor="middle" font-family="'Liberation Serif', 'DejaVu Serif', serif" textLength="35.5" lengthAdjust="spacingAndGlyphs" >12h</text>
<text x="734.5" y="812" font-size="25" fill="#333" stroke="#333" stroke-width="0.3" text-anchor="middle" font-family="'Liberation Serif', 'DejaVu Serif', serif" textLength="35.8" lengthAdjust="spacingAndGlyphs" >24h</text>
<text transform="translate(100,768.3) rotate(-90)" font-size="25.4" font-weight="bold" fill="#111" font-family="'Liberation Serif', 'DejaVu Serif', serif" textLength="265" lengthAdjust="spacingAndGlyphs">Relative expression level</text>
<text x="398.95" y="510.7" font-size="22.5" fill="#111" stroke="#111" stroke-width="0.1" text-anchor="middle" font-family="'Liberation Serif', 'DejaVu Serif', serif" >**</text>
<text x="569.3" y="527.3" font-size="22.5" fill="#111" stroke="#111" stroke-width="0.1" text-anchor="middle" font-family="'Liberation Serif', 'DejaVu Serif', serif" >**</text>
<text x="355.5" y="889.2" font-size="29" fill="#111" stroke="#111" stroke-width="0.3" text-anchor="start" font-family="'Liberation Serif', 'DejaVu Serif', serif" textLength="302" lengthAdjust="spacingAndGlyphs" >Time after inoculation (h)</text>
</g>
<g id="panelD">
<text x="935.6" y="471.6" font-size="22" fill="#111" stroke="#111" stroke-width="0.3" text-anchor="start" font-family="'Liberation Sans', 'DejaVu Sans', sans-serif" >D</text>
<rect x="1033.3" y="470.5" width="535.8" height="367.0" fill="#fff" stroke="#868686" stroke-width="1.8" rx="1.5"/>
<rect x="1058" y="599.7" width="64.3" height="237.79999999999995" fill="#ffffff" stroke="#7a7a7a" stroke-width="1.6" rx="1.5"/>
<rect x="1122.6" y="605.0" width="63.3" height="232.5" fill="#454545" stroke="#3a3a3a" stroke-width="0.8" />
<rect x="1237.3" y="588.3" width="64.3" height="249.20000000000005" fill="#ffffff" stroke="#7a7a7a" stroke-width="1.6" rx="1.5"/>
<rect x="1301.8999999999999" y="660.6" width="63.3" height="176.89999999999998" fill="#454545" stroke="#3a3a3a" stroke-width="0.8" />
<rect x="1415.6" y="594.9" width="64.3" height="242.60000000000002" fill="#ffffff" stroke="#7a7a7a" stroke-width="1.6" rx="1.5"/>
<rect x="1480.1999999999998" y="555.2" width="63.3" height="282.29999999999995" fill="#454545" stroke="#3a3a3a" stroke-width="0.8" />
<line x1="1090.2" y1="597" x2="1090.2" y2="602.5" stroke="#111" stroke-width="1.5" />
<line x1="1086.8" y1="597" x2="1093.6000000000001" y2="597" stroke="#111" stroke-width="1.5" />
<line x1="1086.8" y1="602.5" x2="1093.6000000000001" y2="602.5" stroke="#111" stroke-width="1.5" />
<line x1="1154.5" y1="603.6" x2="1154.5" y2="606.2" stroke="#111" stroke-width="1.5" />
<line x1="1151.1" y1="603.6" x2="1157.9" y2="603.6" stroke="#111" stroke-width="1.5" />
<line x1="1151.1" y1="606.2" x2="1157.9" y2="606.2" stroke="#111" stroke-width="1.5" />
<line x1="1269.5" y1="586.2" x2="1269.5" y2="590.4" stroke="#111" stroke-width="1.5" />
<line x1="1266.1" y1="586.2" x2="1272.9" y2="586.2" stroke="#111" stroke-width="1.5" />
<line x1="1266.1" y1="590.4" x2="1272.9" y2="590.4" stroke="#111" stroke-width="1.5" />
<line x1="1333.6" y1="654.5" x2="1333.6" y2="665.5" stroke="#111" stroke-width="1.5" />
<line x1="1330.1999999999998" y1="654.5" x2="1337.0" y2="654.5" stroke="#111" stroke-width="1.5" />
<line x1="1330.1999999999998" y1="665.5" x2="1337.0" y2="665.5" stroke="#111" stroke-width="1.5" />
<line x1="1447.8" y1="592" x2="1447.8" y2="598" stroke="#111" stroke-width="1.5" />
<line x1="1444.3999999999999" y1="592" x2="1451.2" y2="592" stroke="#111" stroke-width="1.5" />
<line x1="1444.3999999999999" y1="598" x2="1451.2" y2="598" stroke="#111" stroke-width="1.5" />
<line x1="1511.6" y1="547" x2="1511.6" y2="563" stroke="#111" stroke-width="1.5" />
<line x1="1508.1999999999998" y1="547" x2="1515.0" y2="547" stroke="#111" stroke-width="1.5" />
<line x1="1508.1999999999998" y1="563" x2="1515.0" y2="563" stroke="#111" stroke-width="1.5" />
<line x1="1027.8" y1="837.5" x2="1033.3" y2="837.5" stroke="#808080" stroke-width="1.2" />
<text x="1014.6" y="844.3" font-size="20.5" fill="#4a4a4a" stroke="#4a4a4a" stroke-width="0.3" text-anchor="end" font-family="'Liberation Serif', 'DejaVu Serif', serif" >0</text>
<line x1="1027.8" y1="785.0714285714286" x2="1033.3" y2="785.0714285714286" stroke="#808080" stroke-width="1.2" />
<text x="1014.6" y="791.8714285714285" font-size="20.5" fill="#4a4a4a" stroke="#4a4a4a" stroke-width="0.3" text-anchor="end" font-family="'Liberation Serif', 'DejaVu Serif', serif" >0.5</text>
<line x1="1027.8" y1="732.6428571428571" x2="1033.3" y2="732.6428571428571" stroke="#808080" stroke-width="1.2" />
<text x="1014.6" y="739.4428571428571" font-size="20.5" fill="#4a4a4a" stroke="#4a4a4a" stroke-width="0.3" text-anchor="end" font-family="'Liberation Serif', 'DejaVu Serif', serif" >1</text>
<line x1="1027.8" y1="680.2142857142858" x2="1033.3" y2="680.2142857142858" stroke="#808080" stroke-width="1.2" />
<text x="1014.6" y="687.0142857142857" font-size="20.5" fill="#4a4a4a" stroke="#4a4a4a" stroke-width="0.3" text-anchor="end" font-family="'Liberation Serif', 'DejaVu Serif', serif" >1.5</text>
<line x1="1027.8" y1="627.7857142857142" x2="1033.3" y2="627.7857142857142" stroke="#808080" stroke-width="1.2" />
<text x="1014.6" y="634.5857142857142" font-size="20.5" fill="#4a4a4a" stroke="#4a4a4a" stroke-width="0.3" text-anchor="end" font-family="'Liberation Serif', 'DejaVu Serif', serif" >2</text>
<line x1="1027.8" y1="575.3571428571429" x2="1033.3" y2="575.3571428571429" stroke="#808080" stroke-width="1.2" />
<text x="1014.6" y="582.1571428571428" font-size="20.5" fill="#4a4a4a" stroke="#4a4a4a" stroke-width="0.3" text-anchor="end" font-family="'Liberation Serif', 'DejaVu Serif', serif" >2.5</text>
<line x1="1027.8" y1="522.9285714285714" x2="1033.3" y2="522.9285714285714" stroke="#808080" stroke-width="1.2" />
<text x="1014.6" y="529.7285714285714" font-size="20.5" fill="#4a4a4a" stroke="#4a4a4a" stroke-width="0.3" text-anchor="end" font-family="'Liberation Serif', 'DejaVu Serif', serif" >3</text>
<line x1="1027.8" y1="470.5" x2="1033.3" y2="470.5" stroke="#808080" stroke-width="1.2" />
<text x="1014.6" y="477.3" font-size="20.5" fill="#4a4a4a" stroke="#4a4a4a" stroke-width="0.3" text-anchor="end" font-family="'Liberation Serif', 'DejaVu Serif', serif" >3.5</text>
<line x1="1033.3" y1="837.5" x2="1033.3" y2="844.3" stroke="#808080" stroke-width="1.2" />
<line x1="1211.9" y1="837.5" x2="1211.9" y2="844.3" stroke="#808080" stroke-width="1.2" />
<line x1="1390.5" y1="837.5" x2="1390.5" y2="844.3" stroke="#808080" stroke-width="1.2" />
<line x1="1569.1" y1="837.5" x2="1569.1" y2="844.3" stroke="#808080" stroke-width="1.2" />
<text x="1121.3" y="875.2" font-size="25" fill="#444" stroke="#444" stroke-width="0.3" text-anchor="middle" font-family="'Liberation Serif', 'DejaVu Serif', serif" textLength="56.5" lengthAdjust="spacingAndGlyphs" >Col-0</text>
<text x="1301.4" y="875.2" font-size="25" fill="#444" stroke="#444" stroke-width="0.3" text-anchor="middle" font-family="'Liberation Serif', 'DejaVu Serif', serif" textLength="92.4" lengthAdjust="spacingAndGlyphs" >RNAi4-8</text>
<text x="1478" y="875.2" font-size="25" fill="#444" stroke="#444" stroke-width="0.3" text-anchor="middle" font-family="'Liberation Serif', 'DejaVu Serif', serif" textLength="65.5" lengthAdjust="spacingAndGlyphs" >OE4-4</text>
<rect x="1053.3" y="488.6" width="56.2" height="70.7" fill="#fff" stroke="#7a7a7a" stroke-width="1.5" rx="2.5"/>
<rect x="1062.2" y="501.9" width="10" height="10" fill="#fff" stroke="#666" stroke-width="1.2" rx="1"/>
<rect x="1062.2" y="537.1" width="10" height="10" fill="#454545" stroke="#333" stroke-width="1.2" rx="1"/>
<text x="1077" y="512.8" font-size="21" fill="#333" stroke="#333" stroke-width="0.3" text-anchor="start" font-family="'Liberation Serif', 'DejaVu Serif', serif" >0d</text>
<text x="1077" y="548" font-size="21" fill="#333" stroke="#333" stroke-width="0.3" text-anchor="start" font-family="'Liberation Serif', 'DejaVu Serif', serif" >4d</text>
<text x="1241.2" y="505.4" font-size="23.5" fill="#111" stroke="#111" stroke-width="0.3" font-family="'Liberation Serif', 'DejaVu Serif', serif" textLength="158" lengthAdjust="spacingAndGlyphs"><tspan font-style="italic">P.s.ph.</tspan> NPS3121</text>
<text x="1334" y="651.9" font-size="21.5" fill="#222" stroke="#222" stroke-width="0.1" text-anchor="middle" font-family="'Liberation Serif', 'DejaVu Serif', serif" >**</text>
<text x="1511.5" y="543.8" font-size="21.5" fill="#222" stroke="#222" stroke-width="0.1" text-anchor="middle" font-family="'Liberation Serif', 'DejaVu Serif', serif" >*</text>
<text transform="translate(970.3,826.3) rotate(-90)" font-size="21.5" fill="#222" stroke="#222" stroke-width="0.3" font-family="'Liberation Serif', 'DejaVu Serif', serif" textLength="333.5" lengthAdjust="spacingAndGlyphs">Leaf bacterial number (lg[cfu g<tspan font-size="13" dy="-8">-1</tspan><tspan dy="8">.FW])</tspan></text>
</g>
</svg>
</body>
</html>
